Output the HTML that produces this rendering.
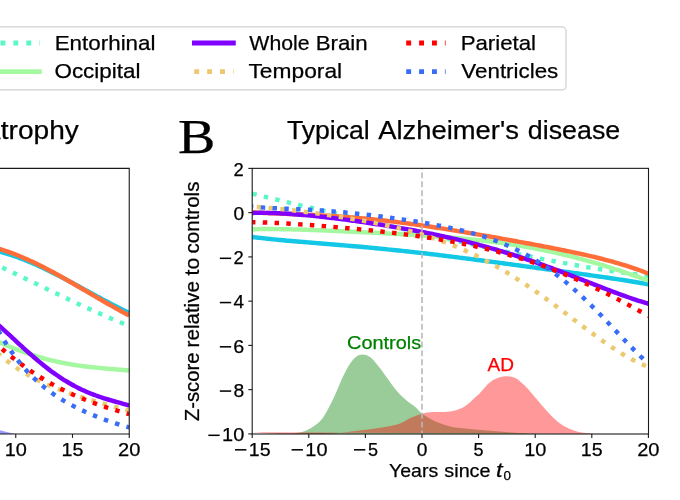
<!DOCTYPE html>
<html><head><meta charset="utf-8"><title>Figure</title>
<style>html,body{margin:0;padding:0;background:#fff;overflow:hidden}svg{display:block;will-change:transform}text{font-family:"Liberation Sans",sans-serif;stroke-width:.25px;stroke-linejoin:round}.serif{font-family:"Liberation Serif",serif}</style>
</head><body>
<svg width="680" height="500" viewBox="0 0 680 500">
<rect x="0" y="0" width="680" height="500" fill="#fff"/>
<defs><clipPath id="cl"><rect x="-5" y="168.35" width="134.25" height="265.65"/></clipPath>
<clipPath id="cr"><rect x="252.20" y="168.35" width="396.30" height="265.65"/></clipPath></defs>
<rect x="-10" y="26.95" width="576.0" height="62.95" rx="3.9" ry="3.9" fill="#fff" stroke="#d0d0d0" stroke-width="1.25"/>
<path d="M-13.00,43.00 H39.70" stroke="#5af8c8" stroke-width="4.90" stroke-dasharray="4.90 8.00" stroke-dashoffset="-0.60" fill="none"/>
<path d="M-13.00,71.60 H41.75" stroke="#a4f89f" stroke-width="4.90" fill="none"/>
<path d="M192.00,43.00 H235.75" stroke="#8000ff" stroke-width="4.90" fill="none"/>
<path d="M194.25,71.60 H233.50" stroke="#ecc86f" stroke-width="4.90" stroke-dasharray="4.90 8.00" stroke-dashoffset="-0.00" fill="none"/>
<path d="M406.20,43.00 H445.60" stroke="#ff0000" stroke-width="4.90" stroke-dasharray="4.90 8.00" stroke-dashoffset="-0.00" fill="none"/>
<path d="M406.20,71.60 H445.60" stroke="#386df9" stroke-width="4.90" stroke-dasharray="4.90 8.00" stroke-dashoffset="-0.00" fill="none"/>
<text x="54.65" y="49.60" font-size="21.00" fill="#000" stroke="#000" textLength="100.87" lengthAdjust="spacingAndGlyphs" >Entorhinal</text>
<text x="54.43" y="78.10" font-size="21.00" fill="#000" stroke="#000" textLength="86.07" lengthAdjust="spacingAndGlyphs" >Occipital</text>
<text x="249.39" y="49.60" font-size="21.00" fill="#000" stroke="#000" textLength="60.30" lengthAdjust="spacingAndGlyphs" >Whole</text>
<text x="315.66" y="49.60" font-size="21.00" fill="#000" stroke="#000" textLength="51.93" lengthAdjust="spacingAndGlyphs" >Brain</text>
<text x="248.49" y="78.10" font-size="21.00" fill="#000" stroke="#000" textLength="93.66" lengthAdjust="spacingAndGlyphs" >Temporal</text>
<text x="460.67" y="49.60" font-size="21.00" fill="#000" stroke="#000" textLength="75.35" lengthAdjust="spacingAndGlyphs" >Parietal</text>
<text x="461.39" y="78.10" font-size="21.00" fill="#000" stroke="#000" textLength="96.91" lengthAdjust="spacingAndGlyphs" >Ventricles</text>
<text x="-15.96" y="138.75" font-size="25.90" fill="#000" stroke="#000" textLength="16.71" lengthAdjust="spacingAndGlyphs" stroke-width="0.08">A</text>
<text x="0.78" y="138.75" font-size="25.90" fill="#000" stroke="#000" textLength="78.02" lengthAdjust="spacingAndGlyphs" stroke-width="0.08">trophy</text>
<text x="286.90" y="138.75" font-size="25.90" fill="#000" stroke="#000" textLength="82.89" lengthAdjust="spacingAndGlyphs" stroke-width="0.08">Typical</text>
<text x="378.18" y="138.75" font-size="25.90" fill="#000" stroke="#000" textLength="140.71" lengthAdjust="spacingAndGlyphs" stroke-width="0.08">Alzheimer&#39;s</text>
<text x="527.86" y="138.75" font-size="25.90" fill="#000" stroke="#000" textLength="92.33" lengthAdjust="spacingAndGlyphs" stroke-width="0.08">disease</text>
<text class="serif" x="177.92" y="152.80" font-size="48.10" fill="#000" stroke="#000" textLength="37.35" lengthAdjust="spacingAndGlyphs" >B</text>
<g clip-path="url(#cl)">
<path d="M-12.00,249.13 C-11.50,249.22 -10.00,249.49 -8.99,249.69 C-7.99,249.89 -6.99,250.10 -5.99,250.32 C-4.99,250.55 -3.99,250.78 -2.98,251.02 C-1.98,251.26 -0.98,251.51 0.02,251.77 C1.02,252.04 2.02,252.31 3.03,252.59 C4.03,252.87 5.03,253.16 6.03,253.46 C7.03,253.76 8.04,254.06 9.04,254.38 C10.04,254.70 11.04,255.02 12.04,255.36 C13.04,255.69 14.05,256.03 15.05,256.39 C16.05,256.74 17.05,257.09 18.05,257.46 C19.05,257.83 20.06,258.20 21.06,258.58 C22.06,258.96 23.06,259.35 24.06,259.75 C25.07,260.15 26.07,260.55 27.07,260.96 C28.07,261.37 29.07,261.79 30.07,262.21 C31.08,262.63 32.08,263.06 33.08,263.50 C34.08,263.93 35.08,264.37 36.09,264.82 C37.09,265.27 38.09,265.72 39.09,266.18 C40.09,266.64 41.09,267.10 42.10,267.57 C43.10,268.04 44.10,268.51 45.10,268.99 C46.10,269.47 47.10,269.95 48.11,270.44 C49.11,270.93 50.11,271.42 51.11,271.92 C52.11,272.42 53.12,272.92 54.12,273.42 C55.12,273.92 56.12,274.43 57.12,274.94 C58.12,275.45 59.13,275.97 60.13,276.49 C61.13,277.00 62.13,277.53 63.13,278.05 C64.13,278.57 65.14,279.10 66.14,279.63 C67.14,280.16 68.14,280.69 69.14,281.22 C70.15,281.75 71.15,282.29 72.15,282.82 C73.15,283.36 74.15,283.90 75.15,284.44 C76.16,284.98 77.16,285.52 78.16,286.06 C79.16,286.61 80.16,287.15 81.16,287.69 C82.17,288.24 83.17,288.78 84.17,289.33 C85.17,289.87 86.17,290.42 87.18,290.97 C88.18,291.51 89.18,292.06 90.18,292.60 C91.18,293.15 92.18,293.69 93.19,294.24 C94.19,294.78 95.19,295.33 96.19,295.87 C97.19,296.41 98.20,296.96 99.20,297.50 C100.20,298.04 101.20,298.58 102.20,299.12 C103.20,299.65 104.21,300.19 105.21,300.72 C106.21,301.26 107.21,301.79 108.21,302.32 C109.21,302.85 110.22,303.38 111.22,303.90 C112.22,304.43 113.22,304.95 114.22,305.47 C115.23,305.99 116.23,306.51 117.23,307.02 C118.23,307.54 119.23,308.05 120.23,308.55 C121.24,309.06 122.24,309.56 123.24,310.06 C124.24,310.56 125.24,311.05 126.24,311.55 C127.25,312.04 128.75,312.76 129.25,313.00" fill="none" stroke="#12c8e6" stroke-width="4.45"/>
<path d="M-12.00,246.19 C-11.50,246.30 -10.00,246.61 -8.99,246.84 C-7.99,247.07 -6.99,247.31 -5.99,247.56 C-4.99,247.81 -3.99,248.07 -2.98,248.35 C-1.98,248.62 -0.98,248.90 0.02,249.19 C1.02,249.49 2.02,249.79 3.03,250.10 C4.03,250.42 5.03,250.74 6.03,251.07 C7.03,251.40 8.04,251.74 9.04,252.09 C10.04,252.45 11.04,252.81 12.04,253.17 C13.04,253.54 14.05,253.92 15.05,254.30 C16.05,254.69 17.05,255.08 18.05,255.49 C19.05,255.89 20.06,256.30 21.06,256.71 C22.06,257.13 23.06,257.56 24.06,257.99 C25.07,258.42 26.07,258.86 27.07,259.31 C28.07,259.76 29.07,260.21 30.07,260.67 C31.08,261.13 32.08,261.60 33.08,262.07 C34.08,262.55 35.08,263.03 36.09,263.51 C37.09,264.00 38.09,264.49 39.09,264.99 C40.09,265.48 41.09,265.99 42.10,266.49 C43.10,267.00 44.10,267.52 45.10,268.03 C46.10,268.55 47.10,269.08 48.11,269.60 C49.11,270.13 50.11,270.66 51.11,271.20 C52.11,271.74 53.12,272.28 54.12,272.82 C55.12,273.37 56.12,273.92 57.12,274.47 C58.12,275.02 59.13,275.58 60.13,276.13 C61.13,276.69 62.13,277.26 63.13,277.82 C64.13,278.38 65.14,278.95 66.14,279.52 C67.14,280.09 68.14,280.67 69.14,281.24 C70.15,281.81 71.15,282.39 72.15,282.97 C73.15,283.55 74.15,284.13 75.15,284.71 C76.16,285.29 77.16,285.88 78.16,286.46 C79.16,287.05 80.16,287.63 81.16,288.22 C82.17,288.80 83.17,289.39 84.17,289.98 C85.17,290.57 86.17,291.15 87.18,291.74 C88.18,292.33 89.18,292.92 90.18,293.51 C91.18,294.09 92.18,294.68 93.19,295.27 C94.19,295.86 95.19,296.44 96.19,297.03 C97.19,297.61 98.20,298.20 99.20,298.78 C100.20,299.36 101.20,299.94 102.20,300.52 C103.20,301.10 104.21,301.68 105.21,302.26 C106.21,302.84 107.21,303.41 108.21,303.98 C109.21,304.55 110.22,305.12 111.22,305.69 C112.22,306.26 113.22,306.82 114.22,307.38 C115.23,307.94 116.23,308.50 117.23,309.06 C118.23,309.61 119.23,310.16 120.23,310.71 C121.24,311.26 122.24,311.80 123.24,312.34 C124.24,312.88 125.24,313.42 126.24,313.95 C127.25,314.48 128.75,315.26 129.25,315.53" fill="none" stroke="#ff6d38" stroke-width="4.45"/>
<path d="M-8.00,262.81 C-7.49,263.05 -5.97,263.75 -4.95,264.22 C-3.93,264.69 -2.92,265.17 -1.90,265.64 C-0.88,266.12 0.13,266.59 1.15,267.07 C2.17,267.55 3.18,268.03 4.20,268.51 C5.22,268.98 6.23,269.46 7.25,269.95 C8.27,270.43 9.28,270.91 10.30,271.39 C11.32,271.88 12.33,272.36 13.35,272.84 C14.37,273.33 15.38,273.82 16.40,274.30 C17.42,274.79 18.43,275.27 19.45,275.76 C20.47,276.25 21.48,276.74 22.50,277.23 C23.52,277.71 24.53,278.20 25.55,278.69 C26.57,279.18 27.58,279.67 28.60,280.16 C29.62,280.65 30.63,281.14 31.65,281.63 C32.67,282.12 33.68,282.61 34.70,283.10 C35.72,283.59 36.73,284.08 37.75,284.57 C38.77,285.06 39.78,285.55 40.80,286.05 C41.82,286.54 42.83,287.03 43.85,287.52 C44.87,288.01 45.88,288.50 46.90,288.98 C47.92,289.47 48.93,289.96 49.95,290.45 C50.97,290.94 51.98,291.43 53.00,291.92 C54.02,292.40 55.03,292.89 56.05,293.38 C57.07,293.86 58.08,294.35 59.10,294.83 C60.12,295.32 61.13,295.80 62.15,296.29 C63.17,296.77 64.18,297.25 65.20,297.73 C66.22,298.22 67.23,298.70 68.25,299.18 C69.27,299.66 70.28,300.13 71.30,300.61 C72.32,301.09 73.33,301.57 74.35,302.04 C75.37,302.52 76.38,302.99 77.40,303.46 C78.42,303.93 79.43,304.41 80.45,304.88 C81.47,305.35 82.48,305.81 83.50,306.28 C84.52,306.75 85.53,307.21 86.55,307.68 C87.57,308.14 88.58,308.60 89.60,309.06 C90.62,309.52 91.63,309.98 92.65,310.44 C93.67,310.89 94.68,311.35 95.70,311.80 C96.72,312.25 97.73,312.70 98.75,313.15 C99.77,313.60 100.78,314.05 101.80,314.49 C102.82,314.94 103.83,315.38 104.85,315.82 C105.87,316.26 106.88,316.70 107.90,317.13 C108.92,317.57 109.93,318.00 110.95,318.43 C111.97,318.86 112.98,319.29 114.00,319.72 C115.02,320.14 116.03,320.57 117.05,320.99 C118.07,321.41 119.08,321.83 120.10,322.24 C121.12,322.66 122.13,323.07 123.15,323.48 C124.17,323.89 125.18,324.30 126.20,324.70 C127.22,325.10 128.74,325.70 129.25,325.90" fill="none" stroke="#5af8c8" stroke-width="4.45" stroke-dasharray="4.45 7.34" stroke-dashoffset="-11.29"/>
<path d="M-10.00,337.99 C-9.50,338.22 -7.98,338.92 -6.97,339.39 C-5.96,339.85 -4.95,340.31 -3.95,340.76 C-2.94,341.22 -1.93,341.67 -0.92,342.12 C0.09,342.56 1.10,343.00 2.11,343.44 C3.12,343.88 4.13,344.31 5.14,344.74 C6.14,345.17 7.15,345.59 8.16,346.01 C9.17,346.43 10.18,346.84 11.19,347.25 C12.20,347.66 13.21,348.06 14.22,348.46 C15.23,348.85 16.24,349.25 17.24,349.63 C18.25,350.02 19.26,350.40 20.27,350.77 C21.28,351.15 22.29,351.52 23.30,351.88 C24.31,352.24 25.32,352.60 26.33,352.95 C27.34,353.30 28.34,353.64 29.35,353.98 C30.36,354.32 31.37,354.65 32.38,354.97 C33.39,355.30 34.40,355.62 35.41,355.93 C36.42,356.24 37.43,356.55 38.43,356.85 C39.44,357.15 40.45,357.44 41.46,357.73 C42.47,358.02 43.48,358.30 44.49,358.57 C45.50,358.85 46.51,359.11 47.52,359.38 C48.53,359.64 49.53,359.89 50.54,360.14 C51.55,360.39 52.56,360.63 53.57,360.87 C54.58,361.11 55.59,361.34 56.60,361.56 C57.61,361.79 58.62,362.00 59.62,362.22 C60.63,362.43 61.64,362.63 62.65,362.83 C63.66,363.03 64.67,363.23 65.68,363.42 C66.69,363.61 67.70,363.79 68.71,363.97 C69.72,364.14 70.72,364.32 71.73,364.48 C72.74,364.65 73.75,364.81 74.76,364.97 C75.77,365.12 76.78,365.28 77.79,365.42 C78.80,365.57 79.81,365.71 80.82,365.85 C81.82,365.98 82.83,366.12 83.84,366.25 C84.85,366.37 85.86,366.50 86.87,366.62 C87.88,366.74 88.89,366.86 89.90,366.97 C90.91,367.08 91.91,367.19 92.92,367.30 C93.93,367.40 94.94,367.51 95.95,367.61 C96.96,367.71 97.97,367.80 98.98,367.90 C99.99,367.99 101.00,368.09 102.01,368.18 C103.01,368.27 104.02,368.36 105.03,368.44 C106.04,368.53 107.05,368.62 108.06,368.70 C109.07,368.79 110.08,368.87 111.09,368.95 C112.10,369.04 113.11,369.12 114.11,369.20 C115.12,369.28 116.13,369.36 117.14,369.45 C118.15,369.53 119.16,369.61 120.17,369.70 C121.18,369.78 122.19,369.87 123.20,369.95 C124.20,370.04 125.21,370.13 126.22,370.22 C127.23,370.31 128.75,370.45 129.25,370.50" fill="none" stroke="#a4f89f" stroke-width="4.45"/>
<path d="M-10.00,317.85 C-9.50,318.27 -7.98,319.52 -6.97,320.37 C-5.96,321.22 -4.95,322.09 -3.95,322.97 C-2.94,323.84 -1.93,324.73 -0.92,325.63 C0.09,326.52 1.10,327.43 2.11,328.34 C3.12,329.25 4.13,330.17 5.14,331.09 C6.14,332.01 7.15,332.94 8.16,333.87 C9.17,334.79 10.18,335.73 11.19,336.66 C12.20,337.59 13.21,338.53 14.22,339.46 C15.23,340.39 16.24,341.33 17.24,342.26 C18.25,343.19 19.26,344.12 20.27,345.05 C21.28,345.97 22.29,346.90 23.30,347.81 C24.31,348.73 25.32,349.64 26.33,350.55 C27.34,351.46 28.34,352.36 29.35,353.25 C30.36,354.15 31.37,355.04 32.38,355.92 C33.39,356.79 34.40,357.67 35.41,358.53 C36.42,359.39 37.43,360.24 38.43,361.09 C39.44,361.93 40.45,362.76 41.46,363.58 C42.47,364.41 43.48,365.22 44.49,366.02 C45.50,366.82 46.51,367.61 47.52,368.38 C48.53,369.16 49.53,369.92 50.54,370.67 C51.55,371.43 52.56,372.16 53.57,372.89 C54.58,373.62 55.59,374.33 56.60,375.03 C57.61,375.73 58.62,376.42 59.62,377.09 C60.63,377.76 61.64,378.42 62.65,379.06 C63.66,379.71 64.67,380.34 65.68,380.96 C66.69,381.58 67.70,382.18 68.71,382.77 C69.72,383.36 70.72,383.93 71.73,384.50 C72.74,385.06 73.75,385.61 74.76,386.14 C75.77,386.68 76.78,387.20 77.79,387.71 C78.80,388.21 79.81,388.71 80.82,389.19 C81.82,389.67 82.83,390.14 83.84,390.60 C84.85,391.05 85.86,391.49 86.87,391.93 C87.88,392.36 88.89,392.78 89.90,393.19 C90.91,393.60 91.91,393.99 92.92,394.38 C93.93,394.77 94.94,395.14 95.95,395.51 C96.96,395.87 97.97,396.23 98.98,396.58 C99.99,396.93 101.00,397.26 102.01,397.60 C103.01,397.93 104.02,398.25 105.03,398.57 C106.04,398.88 107.05,399.19 108.06,399.50 C109.07,399.80 110.08,400.10 111.09,400.39 C112.10,400.69 113.11,400.97 114.11,401.26 C115.12,401.55 116.13,401.83 117.14,402.11 C118.15,402.39 119.16,402.67 120.17,402.95 C121.18,403.24 122.19,403.51 123.20,403.80 C124.20,404.08 125.21,404.36 126.22,404.65 C127.23,404.93 128.75,405.37 129.25,405.52" fill="none" stroke="#8000ff" stroke-width="4.45"/>
<path d="M-8.00,347.63 C-7.49,348.12 -5.97,349.61 -4.95,350.57 C-3.93,351.53 -2.92,352.47 -1.90,353.39 C-0.88,354.30 0.13,355.20 1.15,356.07 C2.17,356.94 3.18,357.79 4.20,358.63 C5.22,359.46 6.23,360.27 7.25,361.07 C8.27,361.86 9.28,362.64 10.30,363.39 C11.32,364.15 12.33,364.89 13.35,365.62 C14.37,366.34 15.38,367.04 16.40,367.73 C17.42,368.42 18.43,369.10 19.45,369.76 C20.47,370.42 21.48,371.06 22.50,371.69 C23.52,372.32 24.53,372.93 25.55,373.54 C26.57,374.14 27.58,374.73 28.60,375.30 C29.62,375.88 30.63,376.44 31.65,376.99 C32.67,377.54 33.68,378.08 34.70,378.61 C35.72,379.13 36.73,379.65 37.75,380.16 C38.77,380.66 39.78,381.16 40.80,381.64 C41.82,382.13 42.83,382.60 43.85,383.07 C44.87,383.54 45.88,383.99 46.90,384.44 C47.92,384.89 48.93,385.33 49.95,385.76 C50.97,386.19 51.98,386.62 53.00,387.03 C54.02,387.45 55.03,387.86 56.05,388.26 C57.07,388.66 58.08,389.06 59.10,389.45 C60.12,389.84 61.13,390.22 62.15,390.59 C63.17,390.97 64.18,391.34 65.20,391.71 C66.22,392.07 67.23,392.43 68.25,392.79 C69.27,393.14 70.28,393.49 71.30,393.84 C72.32,394.19 73.33,394.53 74.35,394.87 C75.37,395.20 76.38,395.54 77.40,395.87 C78.42,396.20 79.43,396.52 80.45,396.84 C81.47,397.17 82.48,397.49 83.50,397.80 C84.52,398.12 85.53,398.43 86.55,398.74 C87.57,399.05 88.58,399.36 89.60,399.67 C90.62,399.97 91.63,400.27 92.65,400.57 C93.67,400.88 94.68,401.17 95.70,401.47 C96.72,401.77 97.73,402.06 98.75,402.35 C99.77,402.65 100.78,402.94 101.80,403.23 C102.82,403.52 103.83,403.80 104.85,404.09 C105.87,404.38 106.88,404.66 107.90,404.94 C108.92,405.23 109.93,405.51 110.95,405.79 C111.97,406.07 112.98,406.35 114.00,406.63 C115.02,406.91 116.03,407.18 117.05,407.46 C118.07,407.74 119.08,408.01 120.10,408.29 C121.12,408.56 122.13,408.83 123.15,409.10 C124.17,409.38 125.18,409.65 126.20,409.92 C127.22,410.19 128.74,410.59 129.25,410.72" fill="none" stroke="#ecc86f" stroke-width="4.45" stroke-dasharray="4.45 7.34" stroke-dashoffset="-7.58"/>
<path d="M-5.00,342.76 C-4.49,343.22 -2.97,344.58 -1.95,345.48 C-0.93,346.37 0.09,347.26 1.10,348.14 C2.12,349.01 3.14,349.88 4.15,350.74 C5.17,351.59 6.19,352.44 7.20,353.28 C8.22,354.12 9.24,354.95 10.26,355.77 C11.27,356.59 12.29,357.39 13.31,358.19 C14.32,358.99 15.34,359.78 16.36,360.57 C17.38,361.35 18.39,362.12 19.41,362.88 C20.43,363.64 21.44,364.39 22.46,365.14 C23.48,365.88 24.49,366.61 25.51,367.33 C26.53,368.06 27.55,368.77 28.56,369.48 C29.58,370.18 30.60,370.88 31.61,371.56 C32.63,372.25 33.65,372.93 34.66,373.59 C35.68,374.26 36.70,374.92 37.72,375.57 C38.73,376.22 39.75,376.86 40.77,377.49 C41.78,378.12 42.80,378.74 43.82,379.35 C44.84,379.96 45.85,380.57 46.87,381.16 C47.89,381.76 48.90,382.34 49.92,382.92 C50.94,383.50 51.95,384.07 52.97,384.63 C53.99,385.19 55.01,385.74 56.02,386.28 C57.04,386.83 58.06,387.36 59.07,387.89 C60.09,388.41 61.11,388.93 62.12,389.44 C63.14,389.95 64.16,390.45 65.18,390.95 C66.19,391.44 67.21,391.93 68.23,392.41 C69.24,392.89 70.26,393.36 71.28,393.82 C72.30,394.29 73.31,394.74 74.33,395.19 C75.35,395.64 76.36,396.09 77.38,396.52 C78.40,396.96 79.41,397.38 80.43,397.81 C81.45,398.23 82.47,398.64 83.48,399.05 C84.50,399.46 85.52,399.86 86.53,400.26 C87.55,400.65 88.57,401.04 89.59,401.43 C90.60,401.81 91.62,402.19 92.64,402.56 C93.65,402.93 94.67,403.30 95.69,403.66 C96.70,404.02 97.72,404.38 98.74,404.73 C99.76,405.08 100.77,405.43 101.79,405.77 C102.81,406.11 103.82,406.45 104.84,406.78 C105.86,407.11 106.88,407.44 107.89,407.76 C108.91,408.09 109.93,408.41 110.94,408.73 C111.96,409.04 112.98,409.36 113.99,409.67 C115.01,409.98 116.03,410.28 117.05,410.59 C118.06,410.89 119.08,411.19 120.10,411.49 C121.11,411.79 122.13,412.09 123.15,412.38 C124.16,412.68 125.18,412.97 126.20,413.26 C127.22,413.55 128.74,413.98 129.25,414.13" fill="none" stroke="#ff0000" stroke-width="4.45" stroke-dasharray="4.45 7.34" stroke-dashoffset="-9.38"/>
<path d="M-6.00,322.36 C-5.50,323.31 -4.00,326.22 -2.99,328.07 C-1.99,329.93 -0.99,331.73 0.01,333.49 C1.01,335.25 2.01,336.96 3.02,338.63 C4.02,340.30 5.02,341.92 6.02,343.50 C7.02,345.08 8.03,346.62 9.03,348.12 C10.03,349.62 11.03,351.08 12.03,352.50 C13.04,353.92 14.04,355.30 15.04,356.64 C16.04,357.99 17.04,359.29 18.04,360.57 C19.05,361.84 20.05,363.08 21.05,364.29 C22.05,365.50 23.05,366.67 24.06,367.82 C25.06,368.96 26.06,370.08 27.06,371.16 C28.06,372.25 29.06,373.30 30.07,374.33 C31.07,375.36 32.07,376.36 33.07,377.34 C34.07,378.31 35.08,379.26 36.08,380.19 C37.08,381.11 38.08,382.01 39.08,382.89 C40.09,383.77 41.09,384.63 42.09,385.46 C43.09,386.30 44.09,387.11 45.09,387.91 C46.10,388.70 47.10,389.47 48.10,390.23 C49.10,390.99 50.10,391.72 51.11,392.44 C52.11,393.16 53.11,393.86 54.11,394.55 C55.11,395.24 56.11,395.91 57.12,396.56 C58.12,397.22 59.12,397.86 60.12,398.48 C61.12,399.11 62.13,399.72 63.13,400.32 C64.13,400.92 65.13,401.50 66.13,402.08 C67.14,402.65 68.14,403.21 69.14,403.76 C70.14,404.31 71.14,404.85 72.14,405.38 C73.15,405.91 74.15,406.43 75.15,406.94 C76.15,407.44 77.15,407.94 78.16,408.43 C79.16,408.92 80.16,409.40 81.16,409.88 C82.16,410.35 83.16,410.81 84.17,411.27 C85.17,411.72 86.17,412.17 87.17,412.61 C88.17,413.05 89.18,413.49 90.18,413.91 C91.18,414.34 92.18,414.76 93.18,415.17 C94.19,415.58 95.19,415.99 96.19,416.39 C97.19,416.79 98.19,417.18 99.19,417.57 C100.20,417.96 101.20,418.34 102.20,418.72 C103.20,419.09 104.20,419.46 105.21,419.83 C106.21,420.19 107.21,420.55 108.21,420.90 C109.21,421.25 110.21,421.60 111.22,421.94 C112.22,422.28 113.22,422.61 114.22,422.94 C115.22,423.27 116.23,423.60 117.23,423.91 C118.23,424.23 119.23,424.54 120.23,424.85 C121.24,425.15 122.24,425.45 123.24,425.74 C124.24,426.04 125.24,426.32 126.24,426.60 C127.25,426.88 128.75,427.28 129.25,427.42" fill="none" stroke="#386df9" stroke-width="4.45" stroke-dasharray="4.45 7.34" stroke-dashoffset="-9.32"/>
<path d="M-5,429 C5,431.5 10,433 16,433.9 L-5,433.9 Z" fill="#9999ff"/>
</g>
<path d="M-5,168.35 H129.25 V434.00 H-5" fill="none" stroke="#1a1a1a" stroke-width="1.1"/>
<path d="M15.75,434.00 v3.9" stroke="#1a1a1a" stroke-width="1.1"/>
<text x="4.74" y="455.50" font-size="18.60" fill="#000" stroke="#000" textLength="22.15" lengthAdjust="spacingAndGlyphs" >10</text>
<path d="M72.50,434.00 v3.9" stroke="#1a1a1a" stroke-width="1.1"/>
<text x="61.51" y="455.50" font-size="18.60" fill="#000" stroke="#000" textLength="21.80" lengthAdjust="spacingAndGlyphs" >15</text>
<path d="M129.25,434.00 v3.9" stroke="#1a1a1a" stroke-width="1.1"/>
<text x="118.05" y="455.50" font-size="18.60" fill="#000" stroke="#000" textLength="22.35" lengthAdjust="spacingAndGlyphs" >20</text>
<g clip-path="url(#cr)">
<path d="M252.25,433.90 C257.71,433.87 277.88,433.80 285.00,433.70 C292.12,433.60 291.25,433.92 295.00,433.30 C298.75,432.68 303.33,432.01 307.50,430.00 C311.67,427.99 316.67,424.58 320.00,421.25 C323.33,417.92 325.00,414.38 327.50,410.00 C330.00,405.62 332.50,400.42 335.00,395.00 C337.50,389.58 340.00,382.71 342.50,377.50 C345.00,372.29 347.71,367.21 350.00,363.75 C352.29,360.29 354.17,358.29 356.25,356.75 C358.33,355.21 360.21,354.46 362.50,354.50 C364.79,354.54 367.50,355.25 370.00,357.00 C372.50,358.75 375.00,362.00 377.50,365.00 C380.00,368.00 382.50,371.58 385.00,375.00 C387.50,378.42 390.00,382.25 392.50,385.50 C395.00,388.75 397.50,391.88 400.00,394.50 C402.50,397.12 405.00,399.21 407.50,401.25 C410.00,403.29 412.58,404.71 415.00,406.75 C417.42,408.79 419.08,411.29 422.00,413.50 C424.92,415.71 428.67,418.08 432.50,420.00 C436.33,421.92 441.25,423.75 445.00,425.00 C448.75,426.25 451.67,426.92 455.00,427.50 C458.33,428.08 461.67,428.17 465.00,428.50 C468.33,428.83 471.25,429.17 475.00,429.50 C478.75,429.83 483.33,430.17 487.50,430.50 C491.67,430.83 495.83,431.17 500.00,431.50 C504.17,431.83 508.33,432.21 512.50,432.50 C516.67,432.79 520.42,433.02 525.00,433.25 C529.58,433.48 537.50,433.79 540.00,433.90 Z" fill="#008000" fill-opacity="0.4"/>
<path d="M252.25,432.30 C253.88,432.40 258.71,432.70 262.00,432.90 C265.29,433.10 268.67,433.32 272.00,433.50 C275.33,433.68 274.00,433.92 282.00,434.00 C290.00,434.08 311.17,434.12 320.00,434.00 C328.83,433.88 328.75,433.84 335.00,433.30 C341.25,432.76 349.17,431.80 357.50,430.75 C365.83,429.70 377.92,428.21 385.00,427.00 C392.08,425.79 395.83,424.96 400.00,423.50 C404.17,422.04 406.33,419.88 410.00,418.25 C413.67,416.62 418.25,414.79 422.00,413.75 C425.75,412.71 428.67,412.29 432.50,412.00 C436.33,411.71 441.25,412.25 445.00,412.00 C448.75,411.75 451.67,411.46 455.00,410.50 C458.33,409.54 461.67,408.42 465.00,406.25 C468.33,404.08 472.50,399.71 475.00,397.50 C477.50,395.29 477.70,395.38 480.00,393.00 C482.30,390.62 485.87,385.70 488.80,383.20 C491.73,380.70 494.65,379.17 497.60,378.00 C500.55,376.83 503.55,376.20 506.50,376.20 C509.45,376.20 512.37,376.53 515.30,378.00 C518.23,379.47 521.15,382.22 524.10,385.00 C527.05,387.78 530.05,391.32 533.00,394.70 C535.95,398.08 538.87,401.92 541.80,405.30 C544.73,408.68 547.67,412.05 550.60,415.00 C553.53,417.95 556.47,420.80 559.40,423.00 C562.33,425.20 565.27,426.80 568.20,428.20 C571.13,429.60 574.05,430.58 577.00,431.40 C579.95,432.22 583.07,432.68 585.90,433.10 C588.73,433.52 592.65,433.77 594.00,433.90 Z" fill="#ff0000" fill-opacity="0.4"/>
<path d="M252.25,237.01 C252.75,237.07 254.25,237.25 255.25,237.37 C256.25,237.49 257.25,237.61 258.25,237.73 C259.25,237.84 260.26,237.96 261.26,238.07 C262.26,238.18 263.26,238.29 264.26,238.40 C265.26,238.51 266.26,238.62 267.26,238.72 C268.26,238.83 269.26,238.93 270.26,239.03 C271.26,239.14 272.26,239.24 273.26,239.34 C274.26,239.44 275.26,239.53 276.27,239.63 C277.27,239.73 278.27,239.82 279.27,239.92 C280.27,240.01 281.27,240.11 282.27,240.20 C283.27,240.29 284.27,240.38 285.27,240.47 C286.27,240.57 287.27,240.66 288.27,240.74 C289.27,240.83 290.27,240.92 291.27,241.01 C292.28,241.10 293.28,241.18 294.28,241.27 C295.28,241.35 296.28,241.44 297.28,241.53 C298.28,241.61 299.28,241.69 300.28,241.78 C301.28,241.86 302.28,241.95 303.28,242.03 C304.28,242.11 305.28,242.19 306.28,242.28 C307.28,242.36 308.29,242.44 309.29,242.52 C310.29,242.61 311.29,242.69 312.29,242.77 C313.29,242.85 314.29,242.93 315.29,243.01 C316.29,243.09 317.29,243.18 318.29,243.26 C319.29,243.34 320.29,243.42 321.29,243.50 C322.29,243.58 323.29,243.66 324.30,243.74 C325.30,243.83 326.30,243.91 327.30,243.99 C328.30,244.07 329.30,244.15 330.30,244.23 C331.30,244.32 332.30,244.40 333.30,244.48 C334.30,244.56 335.30,244.64 336.30,244.73 C337.30,244.81 338.30,244.89 339.30,244.98 C340.31,245.06 341.31,245.14 342.31,245.23 C343.31,245.31 344.31,245.40 345.31,245.48 C346.31,245.57 347.31,245.65 348.31,245.74 C349.31,245.82 350.31,245.91 351.31,246.00 C352.31,246.08 353.31,246.17 354.31,246.26 C355.32,246.34 356.32,246.43 357.32,246.52 C358.32,246.61 359.32,246.70 360.32,246.79 C361.32,246.88 362.32,246.97 363.32,247.06 C364.32,247.15 365.32,247.24 366.32,247.33 C367.32,247.42 368.32,247.51 369.32,247.61 C370.32,247.70 371.33,247.79 372.33,247.89 C373.33,247.98 374.33,248.08 375.33,248.17 C376.33,248.27 377.33,248.36 378.33,248.46 C379.33,248.56 380.33,248.65 381.33,248.75 C382.33,248.85 383.33,248.95 384.33,249.05 C385.33,249.14 386.33,249.24 387.34,249.34 C388.34,249.45 389.34,249.55 390.34,249.65 C391.34,249.75 392.34,249.85 393.34,249.95 C394.34,250.06 395.34,250.16 396.34,250.26 C397.34,250.37 398.34,250.47 399.34,250.58 C400.34,250.68 401.34,250.79 402.34,250.90 C403.35,251.00 404.35,251.11 405.35,251.22 C406.35,251.33 407.35,251.44 408.35,251.55 C409.35,251.65 410.35,251.76 411.35,251.87 C412.35,251.98 413.35,252.10 414.35,252.21 C415.35,252.32 416.35,252.43 417.35,252.54 C418.35,252.66 419.36,252.77 420.36,252.89 C421.36,253.00 422.36,253.11 423.36,253.23 C424.36,253.34 425.36,253.46 426.36,253.58 C427.36,253.69 428.36,253.81 429.36,253.93 C430.36,254.04 431.36,254.16 432.36,254.28 C433.36,254.40 434.36,254.52 435.37,254.64 C436.37,254.76 437.37,254.88 438.37,255.00 C439.37,255.12 440.37,255.24 441.37,255.36 C442.37,255.48 443.37,255.61 444.37,255.73 C445.37,255.85 446.37,255.97 447.37,256.10 C448.37,256.22 449.37,256.35 450.38,256.47 C451.38,256.59 452.38,256.72 453.38,256.84 C454.38,256.97 455.38,257.10 456.38,257.22 C457.38,257.35 458.38,257.47 459.38,257.60 C460.38,257.73 461.38,257.86 462.38,257.98 C463.38,258.11 464.38,258.24 465.38,258.37 C466.39,258.50 467.39,258.62 468.39,258.75 C469.39,258.88 470.39,259.01 471.39,259.14 C472.39,259.27 473.39,259.40 474.39,259.53 C475.39,259.66 476.39,259.79 477.39,259.92 C478.39,260.05 479.39,260.18 480.39,260.32 C481.39,260.45 482.40,260.58 483.40,260.71 C484.40,260.84 485.40,260.97 486.40,261.11 C487.40,261.24 488.40,261.37 489.40,261.50 C490.40,261.64 491.40,261.77 492.40,261.90 C493.40,262.03 494.40,262.17 495.40,262.30 C496.40,262.43 497.40,262.57 498.41,262.70 C499.41,262.84 500.41,262.97 501.41,263.10 C502.41,263.24 503.41,263.37 504.41,263.51 C505.41,263.64 506.41,263.77 507.41,263.91 C508.41,264.04 509.41,264.18 510.41,264.31 C511.41,264.45 512.41,264.58 513.41,264.72 C514.42,264.85 515.42,264.99 516.42,265.12 C517.42,265.26 518.42,265.39 519.42,265.53 C520.42,265.66 521.42,265.80 522.42,265.93 C523.42,266.07 524.42,266.20 525.42,266.34 C526.42,266.47 527.42,266.61 528.42,266.75 C529.42,266.88 530.43,267.02 531.43,267.15 C532.43,267.29 533.43,267.42 534.43,267.56 C535.43,267.70 536.43,267.83 537.43,267.97 C538.43,268.10 539.43,268.24 540.43,268.37 C541.43,268.51 542.43,268.65 543.43,268.78 C544.43,268.92 545.43,269.06 546.44,269.19 C547.44,269.33 548.44,269.46 549.44,269.60 C550.44,269.74 551.44,269.87 552.44,270.01 C553.44,270.15 554.44,270.28 555.44,270.42 C556.44,270.56 557.44,270.69 558.44,270.83 C559.44,270.97 560.44,271.10 561.45,271.24 C562.45,271.38 563.45,271.51 564.45,271.65 C565.45,271.79 566.45,271.93 567.45,272.06 C568.45,272.20 569.45,272.34 570.45,272.48 C571.45,272.62 572.45,272.75 573.45,272.89 C574.45,273.03 575.45,273.17 576.45,273.31 C577.46,273.45 578.46,273.58 579.46,273.72 C580.46,273.86 581.46,274.00 582.46,274.14 C583.46,274.28 584.46,274.42 585.46,274.56 C586.46,274.70 587.46,274.84 588.46,274.98 C589.46,275.12 590.46,275.27 591.46,275.41 C592.46,275.55 593.47,275.69 594.47,275.83 C595.47,275.98 596.47,276.12 597.47,276.26 C598.47,276.41 599.47,276.55 600.47,276.69 C601.47,276.84 602.47,276.98 603.47,277.13 C604.47,277.27 605.47,277.42 606.47,277.57 C607.47,277.71 608.47,277.86 609.48,278.01 C610.48,278.16 611.48,278.30 612.48,278.45 C613.48,278.60 614.48,278.75 615.48,278.90 C616.48,279.06 617.48,279.21 618.48,279.36 C619.48,279.51 620.48,279.67 621.48,279.82 C622.48,279.98 623.48,280.13 624.48,280.29 C625.49,280.44 626.49,280.60 627.49,280.76 C628.49,280.92 629.49,281.08 630.49,281.24 C631.49,281.40 632.49,281.56 633.49,281.72 C634.49,281.89 635.49,282.05 636.49,282.22 C637.49,282.38 638.49,282.55 639.49,282.72 C640.49,282.89 641.50,283.06 642.50,283.23 C643.50,283.40 644.50,283.57 645.50,283.75 C646.50,283.92 648.00,284.19 648.50,284.28" fill="none" stroke="#12c8e6" stroke-width="4.45"/>
<path d="M252.25,193.61 C252.75,193.73 254.25,194.11 255.25,194.36 C256.25,194.61 257.25,194.86 258.25,195.11 C259.25,195.36 260.26,195.60 261.26,195.85 C262.26,196.10 263.26,196.35 264.26,196.59 C265.26,196.84 266.26,197.09 267.26,197.33 C268.26,197.58 269.26,197.82 270.26,198.07 C271.26,198.31 272.26,198.56 273.26,198.80 C274.26,199.04 275.26,199.29 276.27,199.53 C277.27,199.77 278.27,200.02 279.27,200.26 C280.27,200.50 281.27,200.74 282.27,200.98 C283.27,201.22 284.27,201.46 285.27,201.71 C286.27,201.95 287.27,202.19 288.27,202.43 C289.27,202.67 290.27,202.90 291.27,203.14 C292.28,203.38 293.28,203.62 294.28,203.86 C295.28,204.10 296.28,204.34 297.28,204.57 C298.28,204.81 299.28,205.05 300.28,205.29 C301.28,205.52 302.28,205.76 303.28,206.00 C304.28,206.23 305.28,206.47 306.28,206.71 C307.28,206.94 308.29,207.18 309.29,207.41 C310.29,207.65 311.29,207.88 312.29,208.12 C313.29,208.35 314.29,208.59 315.29,208.82 C316.29,209.06 317.29,209.29 318.29,209.52 C319.29,209.76 320.29,209.99 321.29,210.23 C322.29,210.46 323.29,210.69 324.30,210.93 C325.30,211.16 326.30,211.39 327.30,211.62 C328.30,211.86 329.30,212.09 330.30,212.32 C331.30,212.55 332.30,212.79 333.30,213.02 C334.30,213.25 335.30,213.48 336.30,213.71 C337.30,213.94 338.30,214.17 339.30,214.41 C340.31,214.64 341.31,214.87 342.31,215.10 C343.31,215.33 344.31,215.56 345.31,215.79 C346.31,216.02 347.31,216.25 348.31,216.48 C349.31,216.71 350.31,216.94 351.31,217.17 C352.31,217.40 353.31,217.63 354.31,217.86 C355.32,218.09 356.32,218.32 357.32,218.55 C358.32,218.78 359.32,219.01 360.32,219.24 C361.32,219.47 362.32,219.70 363.32,219.92 C364.32,220.15 365.32,220.38 366.32,220.61 C367.32,220.84 368.32,221.07 369.32,221.30 C370.32,221.52 371.33,221.75 372.33,221.98 C373.33,222.21 374.33,222.44 375.33,222.67 C376.33,222.89 377.33,223.12 378.33,223.35 C379.33,223.58 380.33,223.80 381.33,224.03 C382.33,224.26 383.33,224.49 384.33,224.71 C385.33,224.94 386.33,225.17 387.34,225.40 C388.34,225.62 389.34,225.85 390.34,226.08 C391.34,226.30 392.34,226.53 393.34,226.76 C394.34,226.98 395.34,227.21 396.34,227.44 C397.34,227.66 398.34,227.89 399.34,228.12 C400.34,228.34 401.34,228.57 402.34,228.79 C403.35,229.02 404.35,229.25 405.35,229.47 C406.35,229.70 407.35,229.92 408.35,230.15 C409.35,230.37 410.35,230.60 411.35,230.83 C412.35,231.05 413.35,231.28 414.35,231.50 C415.35,231.73 416.35,231.95 417.35,232.18 C418.35,232.40 419.36,232.63 420.36,232.85 C421.36,233.07 422.36,233.30 423.36,233.52 C424.36,233.75 425.36,233.97 426.36,234.20 C427.36,234.42 428.36,234.64 429.36,234.87 C430.36,235.09 431.36,235.32 432.36,235.54 C433.36,235.76 434.36,235.99 435.37,236.21 C436.37,236.43 437.37,236.65 438.37,236.88 C439.37,237.10 440.37,237.32 441.37,237.55 C442.37,237.77 443.37,237.99 444.37,238.21 C445.37,238.43 446.37,238.66 447.37,238.88 C448.37,239.10 449.37,239.32 450.38,239.54 C451.38,239.76 452.38,239.99 453.38,240.21 C454.38,240.43 455.38,240.65 456.38,240.87 C457.38,241.09 458.38,241.31 459.38,241.53 C460.38,241.75 461.38,241.97 462.38,242.19 C463.38,242.41 464.38,242.63 465.38,242.85 C466.39,243.07 467.39,243.28 468.39,243.50 C469.39,243.72 470.39,243.94 471.39,244.16 C472.39,244.38 473.39,244.59 474.39,244.81 C475.39,245.03 476.39,245.24 477.39,245.46 C478.39,245.68 479.39,245.89 480.39,246.11 C481.39,246.33 482.40,246.54 483.40,246.76 C484.40,246.97 485.40,247.19 486.40,247.40 C487.40,247.62 488.40,247.83 489.40,248.05 C490.40,248.26 491.40,248.47 492.40,248.69 C493.40,248.90 494.40,249.11 495.40,249.33 C496.40,249.54 497.40,249.75 498.41,249.96 C499.41,250.17 500.41,250.39 501.41,250.60 C502.41,250.81 503.41,251.02 504.41,251.23 C505.41,251.44 506.41,251.65 507.41,251.86 C508.41,252.07 509.41,252.27 510.41,252.48 C511.41,252.69 512.41,252.90 513.41,253.10 C514.42,253.31 515.42,253.52 516.42,253.72 C517.42,253.93 518.42,254.14 519.42,254.34 C520.42,254.55 521.42,254.75 522.42,254.95 C523.42,255.16 524.42,255.36 525.42,255.56 C526.42,255.77 527.42,255.97 528.42,256.17 C529.42,256.37 530.43,256.57 531.43,256.77 C532.43,256.97 533.43,257.17 534.43,257.37 C535.43,257.57 536.43,257.77 537.43,257.97 C538.43,258.16 539.43,258.36 540.43,258.56 C541.43,258.75 542.43,258.95 543.43,259.14 C544.43,259.34 545.43,259.53 546.44,259.73 C547.44,259.92 548.44,260.11 549.44,260.30 C550.44,260.50 551.44,260.69 552.44,260.88 C553.44,261.07 554.44,261.26 555.44,261.45 C556.44,261.63 557.44,261.82 558.44,262.01 C559.44,262.20 560.44,262.38 561.45,262.57 C562.45,262.75 563.45,262.94 564.45,263.12 C565.45,263.30 566.45,263.49 567.45,263.67 C568.45,263.85 569.45,264.03 570.45,264.21 C571.45,264.39 572.45,264.57 573.45,264.75 C574.45,264.93 575.45,265.10 576.45,265.28 C577.46,265.45 578.46,265.63 579.46,265.80 C580.46,265.98 581.46,266.15 582.46,266.32 C583.46,266.49 584.46,266.66 585.46,266.83 C586.46,267.00 587.46,267.17 588.46,267.34 C589.46,267.50 590.46,267.67 591.46,267.83 C592.46,268.00 593.47,268.16 594.47,268.33 C595.47,268.49 596.47,268.65 597.47,268.81 C598.47,268.97 599.47,269.13 600.47,269.29 C601.47,269.44 602.47,269.60 603.47,269.76 C604.47,269.91 605.47,270.06 606.47,270.22 C607.47,270.37 608.47,270.52 609.48,270.67 C610.48,270.82 611.48,270.97 612.48,271.11 C613.48,271.26 614.48,271.41 615.48,271.55 C616.48,271.70 617.48,271.84 618.48,271.98 C619.48,272.12 620.48,272.26 621.48,272.40 C622.48,272.54 623.48,272.67 624.48,272.81 C625.49,272.94 626.49,273.08 627.49,273.21 C628.49,273.34 629.49,273.47 630.49,273.60 C631.49,273.73 632.49,273.86 633.49,273.98 C634.49,274.11 635.49,274.23 636.49,274.35 C637.49,274.48 638.49,274.60 639.49,274.72 C640.49,274.83 641.50,274.95 642.50,275.07 C643.50,275.18 644.50,275.30 645.50,275.41 C646.50,275.52 648.00,275.68 648.50,275.74" fill="none" stroke="#5af8c8" stroke-width="4.45" stroke-dasharray="4.45 7.34" stroke-dashoffset="-0.09"/>
<path d="M252.25,229.25 C252.75,229.24 254.25,229.21 255.25,229.19 C256.25,229.16 257.25,229.15 258.25,229.13 C259.25,229.12 260.26,229.11 261.26,229.10 C262.26,229.09 263.26,229.08 264.26,229.07 C265.26,229.07 266.26,229.06 267.26,229.06 C268.26,229.06 269.26,229.06 270.26,229.07 C271.26,229.07 272.26,229.07 273.26,229.08 C274.26,229.09 275.26,229.10 276.27,229.11 C277.27,229.12 278.27,229.13 279.27,229.14 C280.27,229.15 281.27,229.17 282.27,229.19 C283.27,229.20 284.27,229.22 285.27,229.24 C286.27,229.26 287.27,229.28 288.27,229.30 C289.27,229.32 290.27,229.35 291.27,229.37 C292.28,229.40 293.28,229.42 294.28,229.45 C295.28,229.47 296.28,229.50 297.28,229.53 C298.28,229.56 299.28,229.59 300.28,229.62 C301.28,229.65 302.28,229.68 303.28,229.71 C304.28,229.75 305.28,229.78 306.28,229.81 C307.28,229.85 308.29,229.88 309.29,229.92 C310.29,229.95 311.29,229.99 312.29,230.03 C313.29,230.06 314.29,230.10 315.29,230.14 C316.29,230.18 317.29,230.21 318.29,230.25 C319.29,230.29 320.29,230.33 321.29,230.37 C322.29,230.41 323.29,230.45 324.30,230.49 C325.30,230.54 326.30,230.58 327.30,230.62 C328.30,230.66 329.30,230.70 330.30,230.75 C331.30,230.79 332.30,230.83 333.30,230.87 C334.30,230.92 335.30,230.96 336.30,231.00 C337.30,231.05 338.30,231.09 339.30,231.14 C340.31,231.18 341.31,231.23 342.31,231.27 C343.31,231.32 344.31,231.36 345.31,231.41 C346.31,231.45 347.31,231.50 348.31,231.54 C349.31,231.59 350.31,231.64 351.31,231.68 C352.31,231.73 353.31,231.78 354.31,231.82 C355.32,231.87 356.32,231.92 357.32,231.96 C358.32,232.01 359.32,232.06 360.32,232.11 C361.32,232.15 362.32,232.20 363.32,232.25 C364.32,232.30 365.32,232.35 366.32,232.40 C367.32,232.44 368.32,232.49 369.32,232.54 C370.32,232.59 371.33,232.64 372.33,232.69 C373.33,232.74 374.33,232.79 375.33,232.84 C376.33,232.89 377.33,232.94 378.33,232.99 C379.33,233.04 380.33,233.09 381.33,233.14 C382.33,233.19 383.33,233.24 384.33,233.29 C385.33,233.35 386.33,233.40 387.34,233.45 C388.34,233.50 389.34,233.55 390.34,233.61 C391.34,233.66 392.34,233.71 393.34,233.77 C394.34,233.82 395.34,233.87 396.34,233.93 C397.34,233.98 398.34,234.04 399.34,234.09 C400.34,234.15 401.34,234.20 402.34,234.26 C403.35,234.32 404.35,234.37 405.35,234.43 C406.35,234.49 407.35,234.54 408.35,234.60 C409.35,234.66 410.35,234.72 411.35,234.78 C412.35,234.84 413.35,234.90 414.35,234.96 C415.35,235.02 416.35,235.08 417.35,235.14 C418.35,235.20 419.36,235.26 420.36,235.33 C421.36,235.39 422.36,235.46 423.36,235.52 C424.36,235.58 425.36,235.65 426.36,235.72 C427.36,235.78 428.36,235.85 429.36,235.92 C430.36,235.99 431.36,236.05 432.36,236.12 C433.36,236.19 434.36,236.26 435.37,236.33 C436.37,236.41 437.37,236.48 438.37,236.55 C439.37,236.63 440.37,236.70 441.37,236.78 C442.37,236.85 443.37,236.93 444.37,237.00 C445.37,237.08 446.37,237.16 447.37,237.24 C448.37,237.32 449.37,237.40 450.38,237.48 C451.38,237.57 452.38,237.65 453.38,237.73 C454.38,237.82 455.38,237.90 456.38,237.99 C457.38,238.08 458.38,238.17 459.38,238.26 C460.38,238.35 461.38,238.44 462.38,238.53 C463.38,238.62 464.38,238.72 465.38,238.81 C466.39,238.91 467.39,239.01 468.39,239.10 C469.39,239.20 470.39,239.30 471.39,239.41 C472.39,239.51 473.39,239.61 474.39,239.71 C475.39,239.82 476.39,239.93 477.39,240.03 C478.39,240.14 479.39,240.25 480.39,240.36 C481.39,240.48 482.40,240.59 483.40,240.70 C484.40,240.82 485.40,240.94 486.40,241.05 C487.40,241.17 488.40,241.29 489.40,241.42 C490.40,241.54 491.40,241.66 492.40,241.79 C493.40,241.91 494.40,242.04 495.40,242.17 C496.40,242.30 497.40,242.43 498.41,242.57 C499.41,242.70 500.41,242.84 501.41,242.98 C502.41,243.12 503.41,243.26 504.41,243.40 C505.41,243.54 506.41,243.68 507.41,243.83 C508.41,243.98 509.41,244.13 510.41,244.28 C511.41,244.43 512.41,244.58 513.41,244.74 C514.42,244.89 515.42,245.05 516.42,245.21 C517.42,245.37 518.42,245.53 519.42,245.70 C520.42,245.86 521.42,246.03 522.42,246.20 C523.42,246.37 524.42,246.54 525.42,246.71 C526.42,246.89 527.42,247.06 528.42,247.24 C529.42,247.42 530.43,247.60 531.43,247.79 C532.43,247.97 533.43,248.16 534.43,248.34 C535.43,248.53 536.43,248.72 537.43,248.92 C538.43,249.11 539.43,249.31 540.43,249.51 C541.43,249.70 542.43,249.91 543.43,250.11 C544.43,250.31 545.43,250.52 546.44,250.73 C547.44,250.94 548.44,251.15 549.44,251.36 C550.44,251.58 551.44,251.79 552.44,252.01 C553.44,252.23 554.44,252.45 555.44,252.68 C556.44,252.90 557.44,253.13 558.44,253.36 C559.44,253.59 560.44,253.82 561.45,254.06 C562.45,254.29 563.45,254.53 564.45,254.77 C565.45,255.01 566.45,255.25 567.45,255.50 C568.45,255.74 569.45,255.99 570.45,256.24 C571.45,256.49 572.45,256.75 573.45,257.00 C574.45,257.26 575.45,257.52 576.45,257.78 C577.46,258.04 578.46,258.31 579.46,258.57 C580.46,258.84 581.46,259.11 582.46,259.38 C583.46,259.65 584.46,259.93 585.46,260.20 C586.46,260.48 587.46,260.76 588.46,261.04 C589.46,261.32 590.46,261.61 591.46,261.90 C592.46,262.18 593.47,262.47 594.47,262.76 C595.47,263.06 596.47,263.35 597.47,263.65 C598.47,263.95 599.47,264.25 600.47,264.55 C601.47,264.85 602.47,265.15 603.47,265.46 C604.47,265.77 605.47,266.08 606.47,266.39 C607.47,266.70 608.47,267.01 609.48,267.33 C610.48,267.65 611.48,267.97 612.48,268.29 C613.48,268.61 614.48,268.93 615.48,269.26 C616.48,269.58 617.48,269.91 618.48,270.24 C619.48,270.57 620.48,270.90 621.48,271.23 C622.48,271.57 623.48,271.90 624.48,272.24 C625.49,272.58 626.49,272.92 627.49,273.26 C628.49,273.60 629.49,273.94 630.49,274.29 C631.49,274.63 632.49,274.98 633.49,275.33 C634.49,275.68 635.49,276.03 636.49,276.38 C637.49,276.73 638.49,277.08 639.49,277.44 C640.49,277.79 641.50,278.15 642.50,278.51 C643.50,278.87 644.50,279.23 645.50,279.59 C646.50,279.95 648.00,280.49 648.50,280.67" fill="none" stroke="#a4f89f" stroke-width="4.45"/>
<path d="M252.25,212.25 C252.75,212.28 254.25,212.38 255.25,212.44 C256.25,212.50 257.25,212.56 258.25,212.61 C259.25,212.67 260.26,212.72 261.26,212.78 C262.26,212.83 263.26,212.88 264.26,212.93 C265.26,212.98 266.26,213.03 267.26,213.08 C268.26,213.12 269.26,213.17 270.26,213.22 C271.26,213.26 272.26,213.31 273.26,213.35 C274.26,213.39 275.26,213.44 276.27,213.48 C277.27,213.52 278.27,213.56 279.27,213.60 C280.27,213.65 281.27,213.69 282.27,213.73 C283.27,213.77 284.27,213.81 285.27,213.85 C286.27,213.89 287.27,213.93 288.27,213.97 C289.27,214.01 290.27,214.05 291.27,214.09 C292.28,214.13 293.28,214.17 294.28,214.21 C295.28,214.25 296.28,214.29 297.28,214.33 C298.28,214.37 299.28,214.41 300.28,214.45 C301.28,214.50 302.28,214.54 303.28,214.58 C304.28,214.62 305.28,214.67 306.28,214.71 C307.28,214.76 308.29,214.80 309.29,214.85 C310.29,214.89 311.29,214.94 312.29,214.99 C313.29,215.03 314.29,215.08 315.29,215.13 C316.29,215.18 317.29,215.23 318.29,215.28 C319.29,215.33 320.29,215.38 321.29,215.44 C322.29,215.49 323.29,215.54 324.30,215.60 C325.30,215.65 326.30,215.71 327.30,215.77 C328.30,215.83 329.30,215.88 330.30,215.94 C331.30,216.00 332.30,216.07 333.30,216.13 C334.30,216.19 335.30,216.25 336.30,216.32 C337.30,216.39 338.30,216.45 339.30,216.52 C340.31,216.59 341.31,216.66 342.31,216.73 C343.31,216.80 344.31,216.87 345.31,216.95 C346.31,217.02 347.31,217.09 348.31,217.17 C349.31,217.25 350.31,217.33 351.31,217.40 C352.31,217.48 353.31,217.57 354.31,217.65 C355.32,217.73 356.32,217.81 357.32,217.90 C358.32,217.99 359.32,218.07 360.32,218.16 C361.32,218.25 362.32,218.34 363.32,218.43 C364.32,218.52 365.32,218.62 366.32,218.71 C367.32,218.81 368.32,218.90 369.32,219.00 C370.32,219.10 371.33,219.20 372.33,219.30 C373.33,219.40 374.33,219.50 375.33,219.60 C376.33,219.71 377.33,219.81 378.33,219.92 C379.33,220.03 380.33,220.14 381.33,220.25 C382.33,220.35 383.33,220.47 384.33,220.58 C385.33,220.69 386.33,220.81 387.34,220.92 C388.34,221.04 389.34,221.15 390.34,221.27 C391.34,221.39 392.34,221.51 393.34,221.63 C394.34,221.75 395.34,221.88 396.34,222.00 C397.34,222.12 398.34,222.25 399.34,222.38 C400.34,222.50 401.34,222.63 402.34,222.76 C403.35,222.89 404.35,223.02 405.35,223.15 C406.35,223.29 407.35,223.42 408.35,223.55 C409.35,223.69 410.35,223.82 411.35,223.96 C412.35,224.10 413.35,224.24 414.35,224.38 C415.35,224.52 416.35,224.66 417.35,224.80 C418.35,224.94 419.36,225.08 420.36,225.23 C421.36,225.37 422.36,225.52 423.36,225.66 C424.36,225.81 425.36,225.96 426.36,226.10 C427.36,226.25 428.36,226.40 429.36,226.55 C430.36,226.70 431.36,226.85 432.36,227.01 C433.36,227.16 434.36,227.31 435.37,227.47 C436.37,227.62 437.37,227.77 438.37,227.93 C439.37,228.09 440.37,228.24 441.37,228.40 C442.37,228.56 443.37,228.72 444.37,228.88 C445.37,229.04 446.37,229.20 447.37,229.36 C448.37,229.52 449.37,229.68 450.38,229.84 C451.38,230.00 452.38,230.17 453.38,230.33 C454.38,230.49 455.38,230.66 456.38,230.82 C457.38,230.99 458.38,231.15 459.38,231.32 C460.38,231.49 461.38,231.65 462.38,231.82 C463.38,231.99 464.38,232.16 465.38,232.33 C466.39,232.50 467.39,232.66 468.39,232.83 C469.39,233.00 470.39,233.17 471.39,233.35 C472.39,233.52 473.39,233.69 474.39,233.86 C475.39,234.03 476.39,234.20 477.39,234.38 C478.39,234.55 479.39,234.72 480.39,234.89 C481.39,235.07 482.40,235.24 483.40,235.42 C484.40,235.59 485.40,235.77 486.40,235.94 C487.40,236.12 488.40,236.29 489.40,236.47 C490.40,236.64 491.40,236.82 492.40,237.00 C493.40,237.17 494.40,237.35 495.40,237.53 C496.40,237.70 497.40,237.88 498.41,238.06 C499.41,238.24 500.41,238.42 501.41,238.59 C502.41,238.77 503.41,238.95 504.41,239.13 C505.41,239.31 506.41,239.49 507.41,239.67 C508.41,239.85 509.41,240.03 510.41,240.21 C511.41,240.39 512.41,240.57 513.41,240.75 C514.42,240.93 515.42,241.12 516.42,241.30 C517.42,241.48 518.42,241.66 519.42,241.84 C520.42,242.03 521.42,242.21 522.42,242.39 C523.42,242.58 524.42,242.76 525.42,242.94 C526.42,243.13 527.42,243.31 528.42,243.50 C529.42,243.68 530.43,243.87 531.43,244.06 C532.43,244.24 533.43,244.43 534.43,244.62 C535.43,244.80 536.43,244.99 537.43,245.18 C538.43,245.37 539.43,245.56 540.43,245.75 C541.43,245.93 542.43,246.12 543.43,246.32 C544.43,246.51 545.43,246.70 546.44,246.89 C547.44,247.08 548.44,247.28 549.44,247.47 C550.44,247.66 551.44,247.86 552.44,248.05 C553.44,248.25 554.44,248.44 555.44,248.64 C556.44,248.84 557.44,249.04 558.44,249.24 C559.44,249.44 560.44,249.64 561.45,249.84 C562.45,250.04 563.45,250.24 564.45,250.45 C565.45,250.65 566.45,250.85 567.45,251.06 C568.45,251.27 569.45,251.47 570.45,251.68 C571.45,251.89 572.45,252.10 573.45,252.32 C574.45,252.53 575.45,252.74 576.45,252.96 C577.46,253.17 578.46,253.39 579.46,253.61 C580.46,253.83 581.46,254.05 582.46,254.27 C583.46,254.49 584.46,254.72 585.46,254.94 C586.46,255.17 587.46,255.40 588.46,255.63 C589.46,255.86 590.46,256.09 591.46,256.33 C592.46,256.57 593.47,256.80 594.47,257.04 C595.47,257.28 596.47,257.53 597.47,257.77 C598.47,258.02 599.47,258.27 600.47,258.52 C601.47,258.77 602.47,259.03 603.47,259.28 C604.47,259.54 605.47,259.80 606.47,260.07 C607.47,260.33 608.47,260.60 609.48,260.87 C610.48,261.14 611.48,261.41 612.48,261.69 C613.48,261.97 614.48,262.25 615.48,262.54 C616.48,262.82 617.48,263.11 618.48,263.40 C619.48,263.70 620.48,264.00 621.48,264.30 C622.48,264.60 623.48,264.91 624.48,265.22 C625.49,265.53 626.49,265.85 627.49,266.17 C628.49,266.49 629.49,266.82 630.49,267.15 C631.49,267.48 632.49,267.82 633.49,268.16 C634.49,268.50 635.49,268.85 636.49,269.20 C637.49,269.55 638.49,269.91 639.49,270.28 C640.49,270.64 641.50,271.01 642.50,271.39 C643.50,271.77 644.50,272.15 645.50,272.54 C646.50,272.94 648.00,273.54 648.50,273.74" fill="none" stroke="#ff6d38" stroke-width="4.45"/>
<path d="M252.25,212.97 C252.75,212.96 254.25,212.91 255.25,212.90 C256.25,212.88 257.25,212.86 258.25,212.85 C259.25,212.84 260.26,212.84 261.26,212.84 C262.26,212.84 263.26,212.84 264.26,212.85 C265.26,212.86 266.26,212.87 267.26,212.89 C268.26,212.91 269.26,212.93 270.26,212.95 C271.26,212.98 272.26,213.01 273.26,213.04 C274.26,213.07 275.26,213.11 276.27,213.15 C277.27,213.19 278.27,213.23 279.27,213.28 C280.27,213.32 281.27,213.37 282.27,213.43 C283.27,213.48 284.27,213.53 285.27,213.59 C286.27,213.65 287.27,213.71 288.27,213.78 C289.27,213.84 290.27,213.91 291.27,213.98 C292.28,214.05 293.28,214.12 294.28,214.20 C295.28,214.27 296.28,214.35 297.28,214.43 C298.28,214.51 299.28,214.59 300.28,214.68 C301.28,214.76 302.28,214.85 303.28,214.94 C304.28,215.02 305.28,215.12 306.28,215.21 C307.28,215.30 308.29,215.40 309.29,215.49 C310.29,215.59 311.29,215.69 312.29,215.79 C313.29,215.89 314.29,215.99 315.29,216.10 C316.29,216.20 317.29,216.31 318.29,216.41 C319.29,216.52 320.29,216.63 321.29,216.74 C322.29,216.85 323.29,216.96 324.30,217.08 C325.30,217.19 326.30,217.31 327.30,217.42 C328.30,217.54 329.30,217.66 330.30,217.78 C331.30,217.90 332.30,218.02 333.30,218.14 C334.30,218.26 335.30,218.38 336.30,218.51 C337.30,218.63 338.30,218.76 339.30,218.89 C340.31,219.01 341.31,219.14 342.31,219.27 C343.31,219.40 344.31,219.53 345.31,219.66 C346.31,219.80 347.31,219.93 348.31,220.06 C349.31,220.20 350.31,220.33 351.31,220.47 C352.31,220.61 353.31,220.74 354.31,220.88 C355.32,221.02 356.32,221.16 357.32,221.30 C358.32,221.44 359.32,221.58 360.32,221.73 C361.32,221.87 362.32,222.01 363.32,222.16 C364.32,222.30 365.32,222.45 366.32,222.60 C367.32,222.74 368.32,222.89 369.32,223.04 C370.32,223.19 371.33,223.34 372.33,223.49 C373.33,223.64 374.33,223.80 375.33,223.95 C376.33,224.10 377.33,224.26 378.33,224.41 C379.33,224.57 380.33,224.73 381.33,224.88 C382.33,225.04 383.33,225.20 384.33,225.36 C385.33,225.52 386.33,225.68 387.34,225.85 C388.34,226.01 389.34,226.17 390.34,226.34 C391.34,226.50 392.34,226.67 393.34,226.83 C394.34,227.00 395.34,227.17 396.34,227.34 C397.34,227.51 398.34,227.68 399.34,227.85 C400.34,228.02 401.34,228.20 402.34,228.37 C403.35,228.55 404.35,228.72 405.35,228.90 C406.35,229.08 407.35,229.26 408.35,229.44 C409.35,229.62 410.35,229.80 411.35,229.98 C412.35,230.16 413.35,230.35 414.35,230.53 C415.35,230.72 416.35,230.90 417.35,231.09 C418.35,231.28 419.36,231.47 420.36,231.66 C421.36,231.85 422.36,232.05 423.36,232.24 C424.36,232.44 425.36,232.63 426.36,232.83 C427.36,233.03 428.36,233.23 429.36,233.43 C430.36,233.63 431.36,233.83 432.36,234.04 C433.36,234.24 434.36,234.45 435.37,234.65 C436.37,234.86 437.37,235.07 438.37,235.28 C439.37,235.49 440.37,235.71 441.37,235.92 C442.37,236.13 443.37,236.35 444.37,236.57 C445.37,236.79 446.37,237.01 447.37,237.23 C448.37,237.45 449.37,237.68 450.38,237.90 C451.38,238.13 452.38,238.36 453.38,238.59 C454.38,238.82 455.38,239.05 456.38,239.28 C457.38,239.52 458.38,239.75 459.38,239.99 C460.38,240.23 461.38,240.47 462.38,240.71 C463.38,240.95 464.38,241.19 465.38,241.44 C466.39,241.69 467.39,241.93 468.39,242.19 C469.39,242.44 470.39,242.69 471.39,242.94 C472.39,243.20 473.39,243.45 474.39,243.71 C475.39,243.97 476.39,244.23 477.39,244.50 C478.39,244.76 479.39,245.03 480.39,245.29 C481.39,245.56 482.40,245.83 483.40,246.10 C484.40,246.38 485.40,246.65 486.40,246.93 C487.40,247.21 488.40,247.48 489.40,247.77 C490.40,248.05 491.40,248.33 492.40,248.62 C493.40,248.90 494.40,249.19 495.40,249.48 C496.40,249.77 497.40,250.07 498.41,250.36 C499.41,250.66 500.41,250.95 501.41,251.25 C502.41,251.55 503.41,251.86 504.41,252.16 C505.41,252.46 506.41,252.77 507.41,253.08 C508.41,253.39 509.41,253.70 510.41,254.01 C511.41,254.33 512.41,254.64 513.41,254.96 C514.42,255.28 515.42,255.60 516.42,255.92 C517.42,256.25 518.42,256.57 519.42,256.90 C520.42,257.23 521.42,257.56 522.42,257.89 C523.42,258.22 524.42,258.55 525.42,258.89 C526.42,259.22 527.42,259.56 528.42,259.90 C529.42,260.24 530.43,260.59 531.43,260.93 C532.43,261.27 533.43,261.62 534.43,261.97 C535.43,262.32 536.43,262.67 537.43,263.02 C538.43,263.37 539.43,263.73 540.43,264.08 C541.43,264.44 542.43,264.80 543.43,265.16 C544.43,265.52 545.43,265.88 546.44,266.24 C547.44,266.61 548.44,266.97 549.44,267.34 C550.44,267.71 551.44,268.07 552.44,268.44 C553.44,268.81 554.44,269.19 555.44,269.56 C556.44,269.93 557.44,270.31 558.44,270.68 C559.44,271.06 560.44,271.44 561.45,271.82 C562.45,272.19 563.45,272.57 564.45,272.96 C565.45,273.34 566.45,273.72 567.45,274.10 C568.45,274.49 569.45,274.87 570.45,275.26 C571.45,275.64 572.45,276.03 573.45,276.41 C574.45,276.80 575.45,277.19 576.45,277.58 C577.46,277.96 578.46,278.35 579.46,278.74 C580.46,279.13 581.46,279.52 582.46,279.91 C583.46,280.30 584.46,280.69 585.46,281.08 C586.46,281.47 587.46,281.86 588.46,282.25 C589.46,282.64 590.46,283.03 591.46,283.42 C592.46,283.81 593.47,284.20 594.47,284.59 C595.47,284.98 596.47,285.37 597.47,285.76 C598.47,286.15 599.47,286.54 600.47,286.92 C601.47,287.31 602.47,287.70 603.47,288.08 C604.47,288.47 605.47,288.85 606.47,289.23 C607.47,289.61 608.47,289.99 609.48,290.37 C610.48,290.75 611.48,291.13 612.48,291.51 C613.48,291.88 614.48,292.26 615.48,292.63 C616.48,293.00 617.48,293.37 618.48,293.74 C619.48,294.11 620.48,294.47 621.48,294.83 C622.48,295.20 623.48,295.56 624.48,295.91 C625.49,296.27 626.49,296.62 627.49,296.98 C628.49,297.33 629.49,297.67 630.49,298.02 C631.49,298.36 632.49,298.70 633.49,299.04 C634.49,299.37 635.49,299.71 636.49,300.03 C637.49,300.36 638.49,300.69 639.49,301.01 C640.49,301.32 641.50,301.64 642.50,301.95 C643.50,302.26 644.50,302.56 645.50,302.86 C646.50,303.16 648.00,303.60 648.50,303.74" fill="none" stroke="#8000ff" stroke-width="4.45"/>
<path d="M252.25,206.77 C252.75,206.79 254.25,206.86 255.25,206.92 C256.25,206.97 257.25,207.03 258.25,207.09 C259.25,207.15 260.26,207.22 261.26,207.28 C262.26,207.35 263.26,207.42 264.26,207.50 C265.26,207.57 266.26,207.65 267.26,207.73 C268.26,207.82 269.26,207.90 270.26,207.99 C271.26,208.07 272.26,208.16 273.26,208.26 C274.26,208.35 275.26,208.44 276.27,208.54 C277.27,208.64 278.27,208.74 279.27,208.84 C280.27,208.94 281.27,209.04 282.27,209.15 C283.27,209.26 284.27,209.36 285.27,209.47 C286.27,209.58 287.27,209.69 288.27,209.81 C289.27,209.92 290.27,210.04 291.27,210.15 C292.28,210.27 293.28,210.39 294.28,210.51 C295.28,210.63 296.28,210.75 297.28,210.87 C298.28,210.99 299.28,211.12 300.28,211.24 C301.28,211.37 302.28,211.50 303.28,211.62 C304.28,211.75 305.28,211.88 306.28,212.01 C307.28,212.14 308.29,212.28 309.29,212.41 C310.29,212.54 311.29,212.68 312.29,212.81 C313.29,212.95 314.29,213.08 315.29,213.22 C316.29,213.36 317.29,213.50 318.29,213.64 C319.29,213.78 320.29,213.92 321.29,214.06 C322.29,214.20 323.29,214.35 324.30,214.49 C325.30,214.64 326.30,214.78 327.30,214.93 C328.30,215.08 329.30,215.22 330.30,215.37 C331.30,215.52 332.30,215.67 333.30,215.82 C334.30,215.97 335.30,216.13 336.30,216.28 C337.30,216.43 338.30,216.59 339.30,216.75 C340.31,216.90 341.31,217.06 342.31,217.22 C343.31,217.38 344.31,217.54 345.31,217.70 C346.31,217.86 347.31,218.03 348.31,218.19 C349.31,218.35 350.31,218.52 351.31,218.69 C352.31,218.86 353.31,219.03 354.31,219.20 C355.32,219.37 356.32,219.54 357.32,219.71 C358.32,219.89 359.32,220.06 360.32,220.24 C361.32,220.42 362.32,220.60 363.32,220.78 C364.32,220.96 365.32,221.15 366.32,221.33 C367.32,221.52 368.32,221.70 369.32,221.89 C370.32,222.08 371.33,222.28 372.33,222.47 C373.33,222.66 374.33,222.86 375.33,223.06 C376.33,223.26 377.33,223.46 378.33,223.66 C379.33,223.87 380.33,224.07 381.33,224.28 C382.33,224.49 383.33,224.70 384.33,224.91 C385.33,225.13 386.33,225.34 387.34,225.56 C388.34,225.78 389.34,226.00 390.34,226.23 C391.34,226.45 392.34,226.68 393.34,226.91 C394.34,227.15 395.34,227.38 396.34,227.62 C397.34,227.85 398.34,228.10 399.34,228.34 C400.34,228.58 401.34,228.83 402.34,229.08 C403.35,229.33 404.35,229.59 405.35,229.85 C406.35,230.10 407.35,230.37 408.35,230.63 C409.35,230.90 410.35,231.17 411.35,231.44 C412.35,231.71 413.35,231.99 414.35,232.27 C415.35,232.55 416.35,232.84 417.35,233.12 C418.35,233.41 419.36,233.71 420.36,234.00 C421.36,234.30 422.36,234.60 423.36,234.91 C424.36,235.22 425.36,235.53 426.36,235.84 C427.36,236.16 428.36,236.48 429.36,236.80 C430.36,237.12 431.36,237.45 432.36,237.79 C433.36,238.12 434.36,238.46 435.37,238.80 C436.37,239.14 437.37,239.49 438.37,239.84 C439.37,240.20 440.37,240.55 441.37,240.92 C442.37,241.28 443.37,241.65 444.37,242.02 C445.37,242.39 446.37,242.77 447.37,243.15 C448.37,243.54 449.37,243.93 450.38,244.32 C451.38,244.71 452.38,245.11 453.38,245.52 C454.38,245.92 455.38,246.33 456.38,246.75 C457.38,247.16 458.38,247.58 459.38,248.01 C460.38,248.44 461.38,248.87 462.38,249.31 C463.38,249.74 464.38,250.19 465.38,250.64 C466.39,251.08 467.39,251.54 468.39,252.00 C469.39,252.46 470.39,252.92 471.39,253.40 C472.39,253.87 473.39,254.35 474.39,254.83 C475.39,255.31 476.39,255.80 477.39,256.30 C478.39,256.79 479.39,257.29 480.39,257.80 C481.39,258.30 482.40,258.82 483.40,259.33 C484.40,259.85 485.40,260.38 486.40,260.91 C487.40,261.44 488.40,261.97 489.40,262.51 C490.40,263.05 491.40,263.60 492.40,264.15 C493.40,264.71 494.40,265.27 495.40,265.83 C496.40,266.39 497.40,266.96 498.41,267.54 C499.41,268.12 500.41,268.70 501.41,269.29 C502.41,269.87 503.41,270.47 504.41,271.06 C505.41,271.66 506.41,272.27 507.41,272.88 C508.41,273.49 509.41,274.10 510.41,274.72 C511.41,275.34 512.41,275.97 513.41,276.60 C514.42,277.23 515.42,277.87 516.42,278.51 C517.42,279.15 518.42,279.80 519.42,280.45 C520.42,281.10 521.42,281.76 522.42,282.42 C523.42,283.08 524.42,283.75 525.42,284.42 C526.42,285.09 527.42,285.76 528.42,286.44 C529.42,287.12 530.43,287.81 531.43,288.50 C532.43,289.19 533.43,289.88 534.43,290.58 C535.43,291.28 536.43,291.98 537.43,292.69 C538.43,293.39 539.43,294.10 540.43,294.82 C541.43,295.53 542.43,296.25 543.43,296.97 C544.43,297.69 545.43,298.41 546.44,299.14 C547.44,299.87 548.44,300.60 549.44,301.33 C550.44,302.07 551.44,302.80 552.44,303.54 C553.44,304.28 554.44,305.02 555.44,305.76 C556.44,306.51 557.44,307.25 558.44,308.00 C559.44,308.75 560.44,309.50 561.45,310.25 C562.45,311.00 563.45,311.76 564.45,312.51 C565.45,313.26 566.45,314.02 567.45,314.78 C568.45,315.53 569.45,316.29 570.45,317.05 C571.45,317.80 572.45,318.56 573.45,319.32 C574.45,320.08 575.45,320.83 576.45,321.59 C577.46,322.35 578.46,323.10 579.46,323.86 C580.46,324.61 581.46,325.37 582.46,326.12 C583.46,326.87 584.46,327.63 585.46,328.38 C586.46,329.12 587.46,329.87 588.46,330.62 C589.46,331.36 590.46,332.10 591.46,332.84 C592.46,333.58 593.47,334.32 594.47,335.05 C595.47,335.78 596.47,336.51 597.47,337.24 C598.47,337.96 599.47,338.68 600.47,339.39 C601.47,340.11 602.47,340.82 603.47,341.52 C604.47,342.23 605.47,342.93 606.47,343.62 C607.47,344.31 608.47,345.00 609.48,345.68 C610.48,346.36 611.48,347.03 612.48,347.69 C613.48,348.36 614.48,349.02 615.48,349.66 C616.48,350.31 617.48,350.95 618.48,351.58 C619.48,352.21 620.48,352.84 621.48,353.45 C622.48,354.06 623.48,354.66 624.48,355.25 C625.49,355.84 626.49,356.42 627.49,356.99 C628.49,357.56 629.49,358.11 630.49,358.66 C631.49,359.20 632.49,359.73 633.49,360.25 C634.49,360.77 635.49,361.27 636.49,361.76 C637.49,362.25 638.49,362.73 639.49,363.18 C640.49,363.64 641.50,364.09 642.50,364.52 C643.50,364.94 644.50,365.36 645.50,365.75 C646.50,366.14 648.00,366.69 648.50,366.88" fill="none" stroke="#ecc86f" stroke-width="4.45" stroke-dasharray="4.45 7.34" stroke-dashoffset="-4.54"/>
<path d="M252.25,222.13 C252.75,222.14 254.25,222.17 255.25,222.19 C256.25,222.22 257.25,222.24 258.25,222.27 C259.25,222.29 260.26,222.32 261.26,222.35 C262.26,222.39 263.26,222.42 264.26,222.45 C265.26,222.49 266.26,222.52 267.26,222.56 C268.26,222.60 269.26,222.64 270.26,222.68 C271.26,222.72 272.26,222.77 273.26,222.81 C274.26,222.86 275.26,222.90 276.27,222.95 C277.27,223.00 278.27,223.05 279.27,223.10 C280.27,223.15 281.27,223.20 282.27,223.26 C283.27,223.31 284.27,223.37 285.27,223.42 C286.27,223.48 287.27,223.54 288.27,223.59 C289.27,223.65 290.27,223.71 291.27,223.77 C292.28,223.84 293.28,223.90 294.28,223.96 C295.28,224.02 296.28,224.09 297.28,224.15 C298.28,224.22 299.28,224.28 300.28,224.35 C301.28,224.42 302.28,224.49 303.28,224.56 C304.28,224.63 305.28,224.70 306.28,224.77 C307.28,224.84 308.29,224.91 309.29,224.98 C310.29,225.05 311.29,225.13 312.29,225.20 C313.29,225.28 314.29,225.35 315.29,225.43 C316.29,225.50 317.29,225.58 318.29,225.66 C319.29,225.74 320.29,225.81 321.29,225.89 C322.29,225.97 323.29,226.05 324.30,226.13 C325.30,226.21 326.30,226.30 327.30,226.38 C328.30,226.46 329.30,226.54 330.30,226.63 C331.30,226.71 332.30,226.79 333.30,226.88 C334.30,226.96 335.30,227.05 336.30,227.14 C337.30,227.22 338.30,227.31 339.30,227.40 C340.31,227.48 341.31,227.57 342.31,227.66 C343.31,227.75 344.31,227.84 345.31,227.93 C346.31,228.02 347.31,228.11 348.31,228.21 C349.31,228.30 350.31,228.39 351.31,228.48 C352.31,228.58 353.31,228.67 354.31,228.77 C355.32,228.86 356.32,228.96 357.32,229.05 C358.32,229.15 359.32,229.25 360.32,229.35 C361.32,229.44 362.32,229.54 363.32,229.64 C364.32,229.74 365.32,229.84 366.32,229.95 C367.32,230.05 368.32,230.15 369.32,230.25 C370.32,230.36 371.33,230.46 372.33,230.56 C373.33,230.67 374.33,230.78 375.33,230.88 C376.33,230.99 377.33,231.10 378.33,231.21 C379.33,231.31 380.33,231.42 381.33,231.53 C382.33,231.65 383.33,231.76 384.33,231.87 C385.33,231.98 386.33,232.10 387.34,232.21 C388.34,232.33 389.34,232.44 390.34,232.56 C391.34,232.68 392.34,232.79 393.34,232.91 C394.34,233.03 395.34,233.15 396.34,233.27 C397.34,233.40 398.34,233.52 399.34,233.64 C400.34,233.77 401.34,233.89 402.34,234.02 C403.35,234.15 404.35,234.27 405.35,234.40 C406.35,234.53 407.35,234.66 408.35,234.80 C409.35,234.93 410.35,235.06 411.35,235.20 C412.35,235.33 413.35,235.47 414.35,235.61 C415.35,235.75 416.35,235.88 417.35,236.03 C418.35,236.17 419.36,236.31 420.36,236.45 C421.36,236.60 422.36,236.74 423.36,236.89 C424.36,237.04 425.36,237.19 426.36,237.34 C427.36,237.49 428.36,237.64 429.36,237.80 C430.36,237.95 431.36,238.11 432.36,238.27 C433.36,238.42 434.36,238.58 435.37,238.75 C436.37,238.91 437.37,239.07 438.37,239.24 C439.37,239.40 440.37,239.57 441.37,239.74 C442.37,239.91 443.37,240.08 444.37,240.25 C445.37,240.43 446.37,240.60 447.37,240.78 C448.37,240.96 449.37,241.14 450.38,241.32 C451.38,241.50 452.38,241.69 453.38,241.87 C454.38,242.06 455.38,242.25 456.38,242.44 C457.38,242.63 458.38,242.82 459.38,243.02 C460.38,243.22 461.38,243.41 462.38,243.61 C463.38,243.82 464.38,244.02 465.38,244.22 C466.39,244.43 467.39,244.64 468.39,244.85 C469.39,245.06 470.39,245.27 471.39,245.49 C472.39,245.70 473.39,245.92 474.39,246.14 C475.39,246.36 476.39,246.58 477.39,246.81 C478.39,247.03 479.39,247.26 480.39,247.49 C481.39,247.73 482.40,247.96 483.40,248.20 C484.40,248.43 485.40,248.67 486.40,248.91 C487.40,249.16 488.40,249.40 489.40,249.65 C490.40,249.90 491.40,250.15 492.40,250.40 C493.40,250.66 494.40,250.91 495.40,251.17 C496.40,251.43 497.40,251.69 498.41,251.96 C499.41,252.23 500.41,252.49 501.41,252.77 C502.41,253.04 503.41,253.31 504.41,253.59 C505.41,253.87 506.41,254.15 507.41,254.43 C508.41,254.72 509.41,255.00 510.41,255.30 C511.41,255.59 512.41,255.88 513.41,256.18 C514.42,256.47 515.42,256.77 516.42,257.08 C517.42,257.38 518.42,257.69 519.42,258.00 C520.42,258.30 521.42,258.62 522.42,258.93 C523.42,259.25 524.42,259.57 525.42,259.89 C526.42,260.22 527.42,260.54 528.42,260.87 C529.42,261.20 530.43,261.53 531.43,261.87 C532.43,262.21 533.43,262.55 534.43,262.89 C535.43,263.23 536.43,263.58 537.43,263.93 C538.43,264.28 539.43,264.63 540.43,264.99 C541.43,265.34 542.43,265.70 543.43,266.07 C544.43,266.43 545.43,266.80 546.44,267.17 C547.44,267.54 548.44,267.91 549.44,268.29 C550.44,268.67 551.44,269.05 552.44,269.43 C553.44,269.82 554.44,270.20 555.44,270.60 C556.44,270.99 557.44,271.38 558.44,271.78 C559.44,272.18 560.44,272.58 561.45,272.98 C562.45,273.39 563.45,273.80 564.45,274.21 C565.45,274.62 566.45,275.04 567.45,275.45 C568.45,275.87 569.45,276.30 570.45,276.72 C571.45,277.15 572.45,277.58 573.45,278.01 C574.45,278.44 575.45,278.88 576.45,279.31 C577.46,279.75 578.46,280.20 579.46,280.64 C580.46,281.09 581.46,281.54 582.46,281.99 C583.46,282.44 584.46,282.90 585.46,283.35 C586.46,283.81 587.46,284.28 588.46,284.74 C589.46,285.21 590.46,285.67 591.46,286.15 C592.46,286.62 593.47,287.09 594.47,287.57 C595.47,288.05 596.47,288.53 597.47,289.01 C598.47,289.50 599.47,289.99 600.47,290.48 C601.47,290.97 602.47,291.46 603.47,291.96 C604.47,292.45 605.47,292.95 606.47,293.45 C607.47,293.96 608.47,294.46 609.48,294.97 C610.48,295.48 611.48,295.99 612.48,296.50 C613.48,297.01 614.48,297.53 615.48,298.05 C616.48,298.57 617.48,299.09 618.48,299.61 C619.48,300.14 620.48,300.66 621.48,301.19 C622.48,301.72 623.48,302.25 624.48,302.79 C625.49,303.32 626.49,303.86 627.49,304.39 C628.49,304.93 629.49,305.47 630.49,306.02 C631.49,306.56 632.49,307.10 633.49,307.65 C634.49,308.20 635.49,308.75 636.49,309.30 C637.49,309.85 638.49,310.40 639.49,310.96 C640.49,311.51 641.50,312.07 642.50,312.63 C643.50,313.19 644.50,313.75 645.50,314.31 C646.50,314.87 648.00,315.72 648.50,316.00" fill="none" stroke="#ff0000" stroke-width="4.45" stroke-dasharray="4.45 7.34" stroke-dashoffset="-10.53"/>
<path d="M252.25,206.53 C252.75,206.59 254.25,206.76 255.25,206.86 C256.25,206.96 257.25,207.05 258.25,207.14 C259.25,207.23 260.26,207.32 261.26,207.40 C262.26,207.48 263.26,207.55 264.26,207.62 C265.26,207.69 266.26,207.76 267.26,207.82 C268.26,207.88 269.26,207.94 270.26,208.00 C271.26,208.06 272.26,208.11 273.26,208.17 C274.26,208.22 275.26,208.27 276.27,208.32 C277.27,208.36 278.27,208.41 279.27,208.46 C280.27,208.50 281.27,208.55 282.27,208.59 C283.27,208.63 284.27,208.68 285.27,208.72 C286.27,208.76 287.27,208.80 288.27,208.84 C289.27,208.89 290.27,208.93 291.27,208.97 C292.28,209.01 293.28,209.05 294.28,209.10 C295.28,209.14 296.28,209.18 297.28,209.23 C298.28,209.27 299.28,209.32 300.28,209.36 C301.28,209.41 302.28,209.45 303.28,209.50 C304.28,209.55 305.28,209.60 306.28,209.65 C307.28,209.70 308.29,209.75 309.29,209.81 C310.29,209.86 311.29,209.91 312.29,209.97 C313.29,210.03 314.29,210.09 315.29,210.14 C316.29,210.20 317.29,210.27 318.29,210.33 C319.29,210.39 320.29,210.46 321.29,210.52 C322.29,210.59 323.29,210.66 324.30,210.73 C325.30,210.80 326.30,210.87 327.30,210.94 C328.30,211.02 329.30,211.09 330.30,211.17 C331.30,211.25 332.30,211.32 333.30,211.41 C334.30,211.49 335.30,211.57 336.30,211.65 C337.30,211.74 338.30,211.82 339.30,211.91 C340.31,212.00 341.31,212.09 342.31,212.18 C343.31,212.27 344.31,212.37 345.31,212.46 C346.31,212.56 347.31,212.65 348.31,212.75 C349.31,212.85 350.31,212.95 351.31,213.05 C352.31,213.16 353.31,213.26 354.31,213.36 C355.32,213.47 356.32,213.58 357.32,213.68 C358.32,213.79 359.32,213.90 360.32,214.01 C361.32,214.12 362.32,214.24 363.32,214.35 C364.32,214.47 365.32,214.58 366.32,214.70 C367.32,214.81 368.32,214.93 369.32,215.05 C370.32,215.17 371.33,215.29 372.33,215.42 C373.33,215.54 374.33,215.66 375.33,215.79 C376.33,215.91 377.33,216.04 378.33,216.17 C379.33,216.29 380.33,216.42 381.33,216.55 C382.33,216.68 383.33,216.81 384.33,216.95 C385.33,217.08 386.33,217.21 387.34,217.35 C388.34,217.48 389.34,217.62 390.34,217.76 C391.34,217.89 392.34,218.03 393.34,218.17 C394.34,218.31 395.34,218.45 396.34,218.59 C397.34,218.74 398.34,218.88 399.34,219.02 C400.34,219.17 401.34,219.31 402.34,219.46 C403.35,219.61 404.35,219.76 405.35,219.91 C406.35,220.06 407.35,220.21 408.35,220.36 C409.35,220.51 410.35,220.67 411.35,220.82 C412.35,220.98 413.35,221.13 414.35,221.29 C415.35,221.45 416.35,221.61 417.35,221.77 C418.35,221.94 419.36,222.10 420.36,222.26 C421.36,222.43 422.36,222.60 423.36,222.76 C424.36,222.93 425.36,223.10 426.36,223.28 C427.36,223.45 428.36,223.62 429.36,223.80 C430.36,223.98 431.36,224.15 432.36,224.33 C433.36,224.52 434.36,224.70 435.37,224.88 C436.37,225.07 437.37,225.26 438.37,225.45 C439.37,225.64 440.37,225.83 441.37,226.03 C442.37,226.22 443.37,226.42 444.37,226.62 C445.37,226.83 446.37,227.03 447.37,227.24 C448.37,227.45 449.37,227.66 450.38,227.87 C451.38,228.09 452.38,228.30 453.38,228.53 C454.38,228.75 455.38,228.97 456.38,229.20 C457.38,229.43 458.38,229.66 459.38,229.90 C460.38,230.14 461.38,230.38 462.38,230.62 C463.38,230.87 464.38,231.12 465.38,231.37 C466.39,231.62 467.39,231.88 468.39,232.15 C469.39,232.41 470.39,232.68 471.39,232.95 C472.39,233.22 473.39,233.50 474.39,233.79 C475.39,234.07 476.39,234.36 477.39,234.65 C478.39,234.95 479.39,235.25 480.39,235.56 C481.39,235.86 482.40,236.17 483.40,236.49 C484.40,236.81 485.40,237.14 486.40,237.47 C487.40,237.80 488.40,238.14 489.40,238.48 C490.40,238.83 491.40,239.18 492.40,239.54 C493.40,239.89 494.40,240.26 495.40,240.63 C496.40,241.01 497.40,241.39 498.41,241.77 C499.41,242.16 500.41,242.56 501.41,242.96 C502.41,243.36 503.41,243.78 504.41,244.20 C505.41,244.62 506.41,245.04 507.41,245.48 C508.41,245.92 509.41,246.36 510.41,246.82 C511.41,247.27 512.41,247.73 513.41,248.20 C514.42,248.67 515.42,249.15 516.42,249.64 C517.42,250.13 518.42,250.63 519.42,251.14 C520.42,251.65 521.42,252.17 522.42,252.70 C523.42,253.22 524.42,253.76 525.42,254.31 C526.42,254.86 527.42,255.41 528.42,255.98 C529.42,256.55 530.43,257.13 531.43,257.72 C532.43,258.30 533.43,258.90 534.43,259.51 C535.43,260.12 536.43,260.74 537.43,261.37 C538.43,262.00 539.43,262.64 540.43,263.29 C541.43,263.94 542.43,264.60 543.43,265.28 C544.43,265.95 545.43,266.63 546.44,267.33 C547.44,268.02 548.44,268.73 549.44,269.45 C550.44,270.16 551.44,270.89 552.44,271.63 C553.44,272.37 554.44,273.12 555.44,273.88 C556.44,274.64 557.44,275.41 558.44,276.19 C559.44,276.97 560.44,277.76 561.45,278.57 C562.45,279.37 563.45,280.18 564.45,281.01 C565.45,281.83 566.45,282.67 567.45,283.52 C568.45,284.36 569.45,285.22 570.45,286.09 C571.45,286.95 572.45,287.83 573.45,288.72 C574.45,289.60 575.45,290.50 576.45,291.41 C577.46,292.31 578.46,293.23 579.46,294.16 C580.46,295.08 581.46,296.02 582.46,296.96 C583.46,297.90 584.46,298.86 585.46,299.82 C586.46,300.78 587.46,301.75 588.46,302.73 C589.46,303.70 590.46,304.69 591.46,305.68 C592.46,306.68 593.47,307.68 594.47,308.68 C595.47,309.69 596.47,310.70 597.47,311.72 C598.47,312.74 599.47,313.77 600.47,314.80 C601.47,315.83 602.47,316.87 603.47,317.91 C604.47,318.95 605.47,319.99 606.47,321.04 C607.47,322.09 608.47,323.14 609.48,324.20 C610.48,325.25 611.48,326.31 612.48,327.37 C613.48,328.42 614.48,329.49 615.48,330.54 C616.48,331.60 617.48,332.67 618.48,333.72 C619.48,334.78 620.48,335.84 621.48,336.90 C622.48,337.95 623.48,339.01 624.48,340.06 C625.49,341.11 626.49,342.15 627.49,343.19 C628.49,344.23 629.49,345.27 630.49,346.30 C631.49,347.33 632.49,348.35 633.49,349.36 C634.49,350.38 635.49,351.38 636.49,352.38 C637.49,353.37 638.49,354.36 639.49,355.33 C640.49,356.30 641.50,357.26 642.50,358.20 C643.50,359.15 644.50,360.08 645.50,360.99 C646.50,361.91 648.00,363.24 648.50,363.69" fill="none" stroke="#386df9" stroke-width="4.45" stroke-dasharray="4.45 7.34" stroke-dashoffset="-8.57"/>
<path d="M422,168.35 V434.00" stroke="#b8b8b8" stroke-width="1.6" stroke-dasharray="5.9 3" stroke-dashoffset="4.8" fill="none"/>
</g>
<rect x="252.20" y="168.35" width="396.30" height="265.65" fill="none" stroke="#1a1a1a" stroke-width="1.1"/>
<path d="M252.20,434.00 v3.9" stroke="#1a1a1a" stroke-width="1.1"/>
<rect x="235.02" y="449.06" width="11.33" height="1.52" fill="#000"/><text x="248.79" y="455.50" font-size="18.60" fill="#000" stroke="#000" textLength="21.80" lengthAdjust="spacingAndGlyphs" >15</text>
<path d="M308.80,434.00 v3.9" stroke="#1a1a1a" stroke-width="1.1"/>
<rect x="291.62" y="449.06" width="11.33" height="1.52" fill="#000"/><text x="305.37" y="455.50" font-size="18.60" fill="#000" stroke="#000" textLength="22.15" lengthAdjust="spacingAndGlyphs" >10</text>
<path d="M365.40,434.00 v3.9" stroke="#1a1a1a" stroke-width="1.1"/>
<rect x="353.98" y="449.06" width="11.33" height="1.52" fill="#000"/><text x="367.91" y="455.50" font-size="18.60" fill="#000" stroke="#000" textLength="10.01" lengthAdjust="spacingAndGlyphs" >5</text>
<path d="M422.00,434.00 v3.9" stroke="#1a1a1a" stroke-width="1.1"/>
<text x="416.66" y="455.50" font-size="18.60" fill="#000" stroke="#000" textLength="10.65" lengthAdjust="spacingAndGlyphs" >0</text>
<path d="M478.60,434.00 v3.9" stroke="#1a1a1a" stroke-width="1.1"/>
<text x="473.53" y="455.50" font-size="18.60" fill="#000" stroke="#000" textLength="10.01" lengthAdjust="spacingAndGlyphs" >5</text>
<path d="M535.20,434.00 v3.9" stroke="#1a1a1a" stroke-width="1.1"/>
<text x="524.19" y="455.50" font-size="18.60" fill="#000" stroke="#000" textLength="22.15" lengthAdjust="spacingAndGlyphs" >10</text>
<path d="M591.80,434.00 v3.9" stroke="#1a1a1a" stroke-width="1.1"/>
<text x="580.81" y="455.50" font-size="18.60" fill="#000" stroke="#000" textLength="21.80" lengthAdjust="spacingAndGlyphs" >15</text>
<path d="M648.40,434.00 v3.9" stroke="#1a1a1a" stroke-width="1.1"/>
<text x="637.20" y="455.50" font-size="18.60" fill="#000" stroke="#000" textLength="22.35" lengthAdjust="spacingAndGlyphs" >20</text>
<path d="M252.20,168.40 h-3.9" stroke="#1a1a1a" stroke-width="1.1"/>
<text x="233.48" y="175.50" font-size="18.60" fill="#000" stroke="#000" textLength="10.23" lengthAdjust="spacingAndGlyphs" >2</text>
<path d="M252.20,212.65 h-3.9" stroke="#1a1a1a" stroke-width="1.1"/>
<text x="233.50" y="219.75" font-size="18.60" fill="#000" stroke="#000" textLength="10.65" lengthAdjust="spacingAndGlyphs" >0</text>
<path d="M252.20,256.90 h-3.9" stroke="#1a1a1a" stroke-width="1.1"/>
<rect x="219.84" y="257.56" width="11.33" height="1.52" fill="#000"/><text x="233.48" y="264.00" font-size="18.60" fill="#000" stroke="#000" textLength="10.23" lengthAdjust="spacingAndGlyphs" >2</text>
<path d="M252.20,301.15 h-3.9" stroke="#1a1a1a" stroke-width="1.1"/>
<rect x="219.84" y="301.81" width="11.33" height="1.52" fill="#000"/><text x="233.57" y="308.25" font-size="18.60" fill="#000" stroke="#000" textLength="10.57" lengthAdjust="spacingAndGlyphs" >4</text>
<path d="M252.20,345.40 h-3.9" stroke="#1a1a1a" stroke-width="1.1"/>
<rect x="219.84" y="346.06" width="11.33" height="1.52" fill="#000"/><text x="233.37" y="352.50" font-size="18.60" fill="#000" stroke="#000" textLength="10.94" lengthAdjust="spacingAndGlyphs" >6</text>
<path d="M252.20,389.65 h-3.9" stroke="#1a1a1a" stroke-width="1.1"/>
<rect x="219.84" y="390.31" width="11.33" height="1.52" fill="#000"/><text x="233.49" y="396.75" font-size="18.60" fill="#000" stroke="#000" textLength="10.71" lengthAdjust="spacingAndGlyphs" >8</text>
<path d="M252.20,433.90 h-3.9" stroke="#1a1a1a" stroke-width="1.1"/>
<rect x="208.33" y="434.56" width="11.33" height="1.52" fill="#000"/><text x="222.07" y="441.00" font-size="18.60" fill="#000" stroke="#000" textLength="22.15" lengthAdjust="spacingAndGlyphs" >10</text>
<text x="389.06" y="477.00" font-size="19.00" fill="#000" stroke="#000" textLength="49.13" lengthAdjust="spacingAndGlyphs" >Years</text>
<text x="444.36" y="477.00" font-size="19.00" fill="#000" stroke="#000" textLength="46.12" lengthAdjust="spacingAndGlyphs" >since</text>
<text font-style="italic" x="495.94" y="477.00" font-size="19.80" fill="#000" stroke="#000" textLength="6.54" lengthAdjust="spacingAndGlyphs" stroke-width="0">t</text>
<text x="503.46" y="479.70" font-size="13.10" fill="#000" stroke="#000" textLength="7.45" lengthAdjust="spacingAndGlyphs" >0</text>
<g transform="translate(199.4,420.6) rotate(-90)"><text x="-0.66" y="0.00" font-size="19.70" fill="#000" stroke="#000" textLength="68.76" lengthAdjust="spacingAndGlyphs" >Z-score</text><text x="73.21" y="0.00" font-size="19.70" fill="#000" stroke="#000" textLength="66.29" lengthAdjust="spacingAndGlyphs" >relative</text><text x="145.18" y="0.00" font-size="19.70" fill="#000" stroke="#000" textLength="17.59" lengthAdjust="spacingAndGlyphs" >to</text><text x="167.23" y="0.00" font-size="19.70" fill="#000" stroke="#000" textLength="71.77" lengthAdjust="spacingAndGlyphs" >controls</text></g>
<text x="347.00" y="348.75" font-size="19.00" fill="#008000" stroke="#008000" textLength="74.17" lengthAdjust="spacingAndGlyphs" >Controls</text>
<text x="487.45" y="370.75" font-size="19.00" fill="#ff0000" stroke="#ff0000" textLength="26.44" lengthAdjust="spacingAndGlyphs" >AD</text>
</svg></body></html>
